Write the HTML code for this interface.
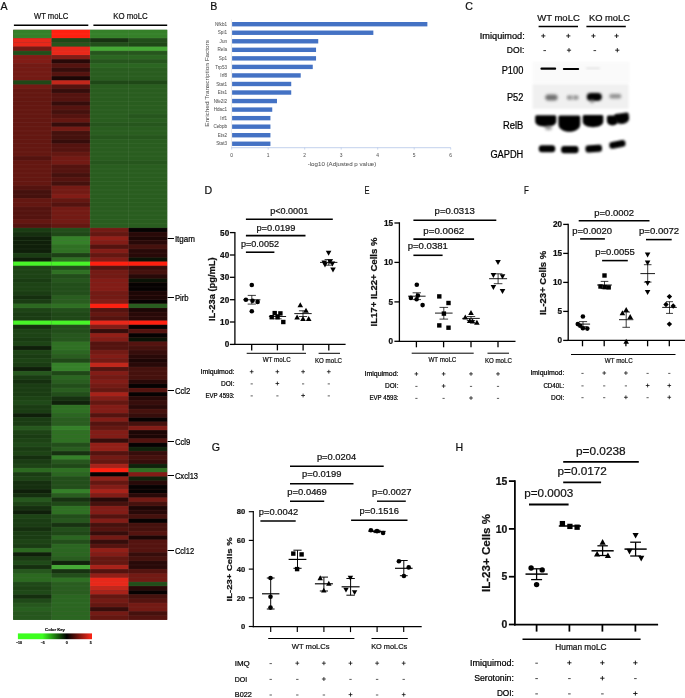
<!DOCTYPE html>
<html lang="en"><head><meta charset="utf-8"><title>Figure</title>
<style>
html,body{margin:0;padding:0;background:#fff;}
body{width:685px;height:698px;overflow:hidden;}
svg{display:block;font-family:"Liberation Sans", sans-serif;}
</style></head><body>
<svg width="685" height="698" viewBox="0 0 685 698">
<rect width="685" height="698" fill="#fff"/>
<rect x="13.2" y="29.8" width="76.9" height="198" fill="#5a1410"/><rect x="90.1" y="29.8" width="77.1" height="198" fill="#295d1f"/><rect x="13.2" y="227.8" width="76.9" height="392" fill="#1f4817"/><rect x="90.1" y="227.8" width="77.1" height="392" fill="#54130f"/>
<g>
<rect x="13.20" y="29.80" width="38.45" height="4.29" fill="#358029"/>
<rect x="51.60" y="29.80" width="38.55" height="4.29" fill="#ff2010"/>
<rect x="90.10" y="29.80" width="38.55" height="4.29" fill="#358029"/>
<rect x="128.60" y="29.80" width="38.60" height="4.29" fill="#358029"/>
<rect x="13.20" y="34.01" width="38.45" height="4.29" fill="#358029"/>
<rect x="51.60" y="34.01" width="38.55" height="4.29" fill="#ff2010"/>
<rect x="90.10" y="34.01" width="38.55" height="4.29" fill="#358029"/>
<rect x="128.60" y="34.01" width="38.60" height="4.29" fill="#358029"/>
<rect x="13.20" y="38.23" width="38.45" height="4.29" fill="#e8281a"/>
<rect x="51.60" y="38.23" width="38.55" height="4.29" fill="#1f4817"/>
<rect x="90.10" y="38.23" width="38.55" height="4.29" fill="#173211"/>
<rect x="128.60" y="38.23" width="38.60" height="4.29" fill="#224e1a"/>
<rect x="13.20" y="42.44" width="38.45" height="4.29" fill="#e8281a"/>
<rect x="51.60" y="42.44" width="38.55" height="4.29" fill="#26561d"/>
<rect x="90.10" y="42.44" width="38.55" height="4.29" fill="#224e1a"/>
<rect x="128.60" y="42.44" width="38.60" height="4.29" fill="#1f4817"/>
<rect x="13.20" y="46.66" width="38.45" height="4.29" fill="#731a14"/>
<rect x="51.60" y="46.66" width="38.55" height="4.29" fill="#e8281a"/>
<rect x="90.10" y="46.66" width="38.55" height="4.29" fill="#45a835"/>
<rect x="128.60" y="46.66" width="38.60" height="4.29" fill="#45a835"/>
<rect x="13.20" y="50.87" width="38.45" height="4.29" fill="#224e1a"/>
<rect x="51.60" y="50.87" width="38.55" height="4.29" fill="#e8281a"/>
<rect x="90.10" y="50.87" width="38.55" height="4.29" fill="#26561d"/>
<rect x="128.60" y="50.87" width="38.60" height="4.29" fill="#26561d"/>
<rect x="13.20" y="55.09" width="38.45" height="4.29" fill="#821c16"/>
<rect x="51.60" y="55.09" width="38.55" height="4.29" fill="#821c16"/>
<rect x="90.10" y="55.09" width="38.55" height="4.29" fill="#2b6621"/>
<rect x="128.60" y="55.09" width="38.60" height="4.29" fill="#2b6621"/>
<rect x="13.20" y="59.30" width="38.45" height="4.29" fill="#821c16"/>
<rect x="51.60" y="59.30" width="38.55" height="4.29" fill="#280908"/>
<rect x="90.10" y="59.30" width="38.55" height="4.29" fill="#26561d"/>
<rect x="128.60" y="59.30" width="38.60" height="4.29" fill="#26561d"/>
<rect x="13.20" y="63.51" width="38.45" height="4.29" fill="#731a14"/>
<rect x="51.60" y="63.51" width="38.55" height="4.29" fill="#54130f"/>
<rect x="90.10" y="63.51" width="38.55" height="4.29" fill="#2b6621"/>
<rect x="128.60" y="63.51" width="38.60" height="4.29" fill="#2b6621"/>
<rect x="13.20" y="67.73" width="38.45" height="4.29" fill="#731a14"/>
<rect x="51.60" y="67.73" width="38.55" height="4.29" fill="#360d0b"/>
<rect x="90.10" y="67.73" width="38.55" height="4.29" fill="#295d1f"/>
<rect x="128.60" y="67.73" width="38.60" height="4.29" fill="#295d1f"/>
<rect x="13.20" y="71.94" width="38.45" height="4.29" fill="#731a14"/>
<rect x="51.60" y="71.94" width="38.55" height="4.29" fill="#54130f"/>
<rect x="90.10" y="71.94" width="38.55" height="4.29" fill="#295d1f"/>
<rect x="128.60" y="71.94" width="38.60" height="4.29" fill="#295d1f"/>
<rect x="13.20" y="76.16" width="38.45" height="4.29" fill="#731a14"/>
<rect x="51.60" y="76.16" width="38.55" height="4.29" fill="#1c0605"/>
<rect x="90.10" y="76.16" width="38.55" height="4.29" fill="#295d1f"/>
<rect x="128.60" y="76.16" width="38.60" height="4.29" fill="#295d1f"/>
<rect x="13.20" y="80.37" width="38.45" height="4.29" fill="#1f4817"/>
<rect x="51.60" y="80.37" width="38.55" height="4.29" fill="#c2271b"/>
<rect x="90.10" y="80.37" width="38.55" height="4.29" fill="#1f4817"/>
<rect x="128.60" y="80.37" width="38.60" height="4.29" fill="#1f4817"/>
<rect x="13.20" y="84.59" width="38.45" height="4.29" fill="#731a14"/>
<rect x="51.60" y="84.59" width="38.55" height="4.29" fill="#54130f"/>
<rect x="90.10" y="84.59" width="38.55" height="4.29" fill="#295d1f"/>
<rect x="128.60" y="84.59" width="38.60" height="4.29" fill="#295d1f"/>
<rect x="13.20" y="88.80" width="38.45" height="4.29" fill="#641711"/>
<rect x="51.60" y="88.80" width="38.55" height="4.29" fill="#360d0b"/>
<rect x="90.10" y="88.80" width="38.55" height="4.29" fill="#295d1f"/>
<rect x="128.60" y="88.80" width="38.60" height="4.29" fill="#295d1f"/>
<rect x="13.20" y="93.01" width="38.45" height="4.29" fill="#641711"/>
<rect x="51.60" y="93.01" width="38.55" height="4.29" fill="#54130f"/>
<rect x="90.10" y="93.01" width="38.55" height="4.29" fill="#295d1f"/>
<rect x="128.60" y="93.01" width="38.60" height="4.29" fill="#295d1f"/>
<rect x="13.20" y="97.23" width="38.45" height="4.29" fill="#641711"/>
<rect x="51.60" y="97.23" width="38.55" height="4.29" fill="#54130f"/>
<rect x="90.10" y="97.23" width="38.55" height="4.29" fill="#295d1f"/>
<rect x="128.60" y="97.23" width="38.60" height="4.29" fill="#295d1f"/>
<rect x="13.20" y="101.44" width="38.45" height="4.29" fill="#641711"/>
<rect x="51.60" y="101.44" width="38.55" height="4.29" fill="#360d0b"/>
<rect x="90.10" y="101.44" width="38.55" height="4.29" fill="#295d1f"/>
<rect x="128.60" y="101.44" width="38.60" height="4.29" fill="#295d1f"/>
<rect x="13.20" y="105.66" width="38.45" height="4.29" fill="#641711"/>
<rect x="51.60" y="105.66" width="38.55" height="4.29" fill="#54130f"/>
<rect x="90.10" y="105.66" width="38.55" height="4.29" fill="#295d1f"/>
<rect x="128.60" y="105.66" width="38.60" height="4.29" fill="#295d1f"/>
<rect x="13.20" y="109.87" width="38.45" height="4.29" fill="#641711"/>
<rect x="51.60" y="109.87" width="38.55" height="4.29" fill="#45110d"/>
<rect x="90.10" y="109.87" width="38.55" height="4.29" fill="#295d1f"/>
<rect x="128.60" y="109.87" width="38.60" height="4.29" fill="#295d1f"/>
<rect x="13.20" y="114.09" width="38.45" height="4.29" fill="#641711"/>
<rect x="51.60" y="114.09" width="38.55" height="4.29" fill="#54130f"/>
<rect x="90.10" y="114.09" width="38.55" height="4.29" fill="#295d1f"/>
<rect x="128.60" y="114.09" width="38.60" height="4.29" fill="#26561d"/>
<rect x="13.20" y="118.30" width="38.45" height="4.29" fill="#641711"/>
<rect x="51.60" y="118.30" width="38.55" height="4.29" fill="#641711"/>
<rect x="90.10" y="118.30" width="38.55" height="4.29" fill="#295d1f"/>
<rect x="128.60" y="118.30" width="38.60" height="4.29" fill="#295d1f"/>
<rect x="13.20" y="122.51" width="38.45" height="4.29" fill="#641711"/>
<rect x="51.60" y="122.51" width="38.55" height="4.29" fill="#360d0b"/>
<rect x="90.10" y="122.51" width="38.55" height="4.29" fill="#26561d"/>
<rect x="128.60" y="122.51" width="38.60" height="4.29" fill="#26561d"/>
<rect x="13.20" y="126.73" width="38.45" height="4.29" fill="#641711"/>
<rect x="51.60" y="126.73" width="38.55" height="4.29" fill="#731a14"/>
<rect x="90.10" y="126.73" width="38.55" height="4.29" fill="#295d1f"/>
<rect x="128.60" y="126.73" width="38.60" height="4.29" fill="#295d1f"/>
<rect x="13.20" y="130.94" width="38.45" height="4.29" fill="#641711"/>
<rect x="51.60" y="130.94" width="38.55" height="4.29" fill="#45110d"/>
<rect x="90.10" y="130.94" width="38.55" height="4.29" fill="#295d1f"/>
<rect x="128.60" y="130.94" width="38.60" height="4.29" fill="#295d1f"/>
<rect x="13.20" y="135.16" width="38.45" height="4.29" fill="#641711"/>
<rect x="51.60" y="135.16" width="38.55" height="4.29" fill="#45110d"/>
<rect x="90.10" y="135.16" width="38.55" height="4.29" fill="#26561d"/>
<rect x="128.60" y="135.16" width="38.60" height="4.29" fill="#26561d"/>
<rect x="13.20" y="139.37" width="38.45" height="4.29" fill="#641711"/>
<rect x="51.60" y="139.37" width="38.55" height="4.29" fill="#360d0b"/>
<rect x="90.10" y="139.37" width="38.55" height="4.29" fill="#295d1f"/>
<rect x="128.60" y="139.37" width="38.60" height="4.29" fill="#295d1f"/>
<rect x="13.20" y="143.59" width="38.45" height="4.29" fill="#641711"/>
<rect x="51.60" y="143.59" width="38.55" height="4.29" fill="#54130f"/>
<rect x="90.10" y="143.59" width="38.55" height="4.29" fill="#295d1f"/>
<rect x="128.60" y="143.59" width="38.60" height="4.29" fill="#295d1f"/>
<rect x="13.20" y="147.80" width="38.45" height="4.29" fill="#641711"/>
<rect x="51.60" y="147.80" width="38.55" height="4.29" fill="#54130f"/>
<rect x="90.10" y="147.80" width="38.55" height="4.29" fill="#295d1f"/>
<rect x="128.60" y="147.80" width="38.60" height="4.29" fill="#295d1f"/>
<rect x="13.20" y="152.01" width="38.45" height="4.29" fill="#641711"/>
<rect x="51.60" y="152.01" width="38.55" height="4.29" fill="#641711"/>
<rect x="90.10" y="152.01" width="38.55" height="4.29" fill="#295d1f"/>
<rect x="128.60" y="152.01" width="38.60" height="4.29" fill="#295d1f"/>
<rect x="13.20" y="156.23" width="38.45" height="4.29" fill="#54130f"/>
<rect x="51.60" y="156.23" width="38.55" height="4.29" fill="#731a14"/>
<rect x="90.10" y="156.23" width="38.55" height="4.29" fill="#295d1f"/>
<rect x="128.60" y="156.23" width="38.60" height="4.29" fill="#295d1f"/>
<rect x="13.20" y="160.44" width="38.45" height="4.29" fill="#641711"/>
<rect x="51.60" y="160.44" width="38.55" height="4.29" fill="#731a14"/>
<rect x="90.10" y="160.44" width="38.55" height="4.29" fill="#26561d"/>
<rect x="128.60" y="160.44" width="38.60" height="4.29" fill="#26561d"/>
<rect x="13.20" y="164.66" width="38.45" height="4.29" fill="#641711"/>
<rect x="51.60" y="164.66" width="38.55" height="4.29" fill="#54130f"/>
<rect x="90.10" y="164.66" width="38.55" height="4.29" fill="#295d1f"/>
<rect x="128.60" y="164.66" width="38.60" height="4.29" fill="#295d1f"/>
<rect x="13.20" y="168.87" width="38.45" height="4.29" fill="#641711"/>
<rect x="51.60" y="168.87" width="38.55" height="4.29" fill="#54130f"/>
<rect x="90.10" y="168.87" width="38.55" height="4.29" fill="#295d1f"/>
<rect x="128.60" y="168.87" width="38.60" height="4.29" fill="#295d1f"/>
<rect x="13.20" y="173.09" width="38.45" height="4.29" fill="#641711"/>
<rect x="51.60" y="173.09" width="38.55" height="4.29" fill="#45110d"/>
<rect x="90.10" y="173.09" width="38.55" height="4.29" fill="#295d1f"/>
<rect x="128.60" y="173.09" width="38.60" height="4.29" fill="#295d1f"/>
<rect x="13.20" y="177.30" width="38.45" height="4.29" fill="#641711"/>
<rect x="51.60" y="177.30" width="38.55" height="4.29" fill="#54130f"/>
<rect x="90.10" y="177.30" width="38.55" height="4.29" fill="#295d1f"/>
<rect x="128.60" y="177.30" width="38.60" height="4.29" fill="#295d1f"/>
<rect x="13.20" y="181.51" width="38.45" height="4.29" fill="#641711"/>
<rect x="51.60" y="181.51" width="38.55" height="4.29" fill="#45110d"/>
<rect x="90.10" y="181.51" width="38.55" height="4.29" fill="#295d1f"/>
<rect x="128.60" y="181.51" width="38.60" height="4.29" fill="#295d1f"/>
<rect x="13.20" y="185.73" width="38.45" height="4.29" fill="#54130f"/>
<rect x="51.60" y="185.73" width="38.55" height="4.29" fill="#731a14"/>
<rect x="90.10" y="185.73" width="38.55" height="4.29" fill="#295d1f"/>
<rect x="128.60" y="185.73" width="38.60" height="4.29" fill="#295d1f"/>
<rect x="13.20" y="189.94" width="38.45" height="4.29" fill="#45110d"/>
<rect x="51.60" y="189.94" width="38.55" height="4.29" fill="#731a14"/>
<rect x="90.10" y="189.94" width="38.55" height="4.29" fill="#295d1f"/>
<rect x="128.60" y="189.94" width="38.60" height="4.29" fill="#295d1f"/>
<rect x="13.20" y="194.16" width="38.45" height="4.29" fill="#45110d"/>
<rect x="51.60" y="194.16" width="38.55" height="4.29" fill="#821c16"/>
<rect x="90.10" y="194.16" width="38.55" height="4.29" fill="#295d1f"/>
<rect x="128.60" y="194.16" width="38.60" height="4.29" fill="#295d1f"/>
<rect x="13.20" y="198.37" width="38.45" height="4.29" fill="#641711"/>
<rect x="51.60" y="198.37" width="38.55" height="4.29" fill="#641711"/>
<rect x="90.10" y="198.37" width="38.55" height="4.29" fill="#295d1f"/>
<rect x="128.60" y="198.37" width="38.60" height="4.29" fill="#295d1f"/>
<rect x="13.20" y="202.59" width="38.45" height="4.29" fill="#641711"/>
<rect x="51.60" y="202.59" width="38.55" height="4.29" fill="#54130f"/>
<rect x="90.10" y="202.59" width="38.55" height="4.29" fill="#295d1f"/>
<rect x="128.60" y="202.59" width="38.60" height="4.29" fill="#295d1f"/>
<rect x="13.20" y="206.80" width="38.45" height="4.29" fill="#54130f"/>
<rect x="51.60" y="206.80" width="38.55" height="4.29" fill="#731a14"/>
<rect x="90.10" y="206.80" width="38.55" height="4.29" fill="#295d1f"/>
<rect x="128.60" y="206.80" width="38.60" height="4.29" fill="#295d1f"/>
<rect x="13.20" y="211.01" width="38.45" height="4.29" fill="#54130f"/>
<rect x="51.60" y="211.01" width="38.55" height="4.29" fill="#731a14"/>
<rect x="90.10" y="211.01" width="38.55" height="4.29" fill="#295d1f"/>
<rect x="128.60" y="211.01" width="38.60" height="4.29" fill="#295d1f"/>
<rect x="13.20" y="215.23" width="38.45" height="4.29" fill="#54130f"/>
<rect x="51.60" y="215.23" width="38.55" height="4.29" fill="#731a14"/>
<rect x="90.10" y="215.23" width="38.55" height="4.29" fill="#295d1f"/>
<rect x="128.60" y="215.23" width="38.60" height="4.29" fill="#295d1f"/>
<rect x="13.20" y="219.44" width="38.45" height="4.29" fill="#641711"/>
<rect x="51.60" y="219.44" width="38.55" height="4.29" fill="#731a14"/>
<rect x="90.10" y="219.44" width="38.55" height="4.29" fill="#295d1f"/>
<rect x="128.60" y="219.44" width="38.60" height="4.29" fill="#295d1f"/>
<rect x="13.20" y="223.66" width="38.45" height="4.29" fill="#54130f"/>
<rect x="51.60" y="223.66" width="38.55" height="4.29" fill="#641711"/>
<rect x="90.10" y="223.66" width="38.55" height="4.29" fill="#295d1f"/>
<rect x="128.60" y="223.66" width="38.60" height="4.29" fill="#295d1f"/>
<rect x="13.20" y="227.87" width="38.45" height="4.29" fill="#1a3c13"/>
<rect x="51.60" y="227.87" width="38.55" height="4.29" fill="#224e1a"/>
<rect x="90.10" y="227.87" width="38.55" height="4.29" fill="#731a14"/>
<rect x="128.60" y="227.87" width="38.60" height="4.29" fill="#060202"/>
<rect x="13.20" y="232.09" width="38.45" height="4.29" fill="#152f0f"/>
<rect x="51.60" y="232.09" width="38.55" height="4.29" fill="#1f4817"/>
<rect x="90.10" y="232.09" width="38.55" height="4.29" fill="#641711"/>
<rect x="128.60" y="232.09" width="38.60" height="4.29" fill="#280908"/>
<rect x="13.20" y="236.30" width="38.45" height="4.29" fill="#0f1f0a"/>
<rect x="51.60" y="236.30" width="38.55" height="4.29" fill="#358029"/>
<rect x="90.10" y="236.30" width="38.55" height="4.29" fill="#921f17"/>
<rect x="128.60" y="236.30" width="38.60" height="4.29" fill="#1c0605"/>
<rect x="13.20" y="240.51" width="38.45" height="4.29" fill="#0f1f0a"/>
<rect x="51.60" y="240.51" width="38.55" height="4.29" fill="#358029"/>
<rect x="90.10" y="240.51" width="38.55" height="4.29" fill="#821c16"/>
<rect x="128.60" y="240.51" width="38.60" height="4.29" fill="#280908"/>
<rect x="13.20" y="244.73" width="38.45" height="4.29" fill="#0f1f0a"/>
<rect x="51.60" y="244.73" width="38.55" height="4.29" fill="#2f7023"/>
<rect x="90.10" y="244.73" width="38.55" height="4.29" fill="#54130f"/>
<rect x="128.60" y="244.73" width="38.60" height="4.29" fill="#45110d"/>
<rect x="13.20" y="248.94" width="38.45" height="4.29" fill="#0f1f0a"/>
<rect x="51.60" y="248.94" width="38.55" height="4.29" fill="#2f7023"/>
<rect x="90.10" y="248.94" width="38.55" height="4.29" fill="#821c16"/>
<rect x="128.60" y="248.94" width="38.60" height="4.29" fill="#280908"/>
<rect x="13.20" y="253.16" width="38.45" height="4.29" fill="#1a3c13"/>
<rect x="51.60" y="253.16" width="38.55" height="4.29" fill="#1c4015"/>
<rect x="90.10" y="253.16" width="38.55" height="4.29" fill="#641711"/>
<rect x="128.60" y="253.16" width="38.60" height="4.29" fill="#280908"/>
<rect x="13.20" y="257.37" width="38.45" height="4.29" fill="#0f1f0a"/>
<rect x="51.60" y="257.37" width="38.55" height="4.29" fill="#2f7023"/>
<rect x="90.10" y="257.37" width="38.55" height="4.29" fill="#821c16"/>
<rect x="128.60" y="257.37" width="38.60" height="4.29" fill="#0a1206"/>
<rect x="13.20" y="261.59" width="38.45" height="4.29" fill="#48f528"/>
<rect x="51.60" y="261.59" width="38.55" height="4.29" fill="#48f528"/>
<rect x="90.10" y="261.59" width="38.55" height="4.29" fill="#ff2010"/>
<rect x="128.60" y="261.59" width="38.60" height="4.29" fill="#ff2010"/>
<rect x="13.20" y="265.80" width="38.45" height="4.29" fill="#1d4315"/>
<rect x="51.60" y="265.80" width="38.55" height="4.29" fill="#224e1a"/>
<rect x="90.10" y="265.80" width="38.55" height="4.29" fill="#54130f"/>
<rect x="128.60" y="265.80" width="38.60" height="4.29" fill="#360d0b"/>
<rect x="13.20" y="270.01" width="38.45" height="4.29" fill="#1d4315"/>
<rect x="51.60" y="270.01" width="38.55" height="4.29" fill="#2f7023"/>
<rect x="90.10" y="270.01" width="38.55" height="4.29" fill="#731a14"/>
<rect x="128.60" y="270.01" width="38.60" height="4.29" fill="#45110d"/>
<rect x="13.20" y="274.23" width="38.45" height="4.29" fill="#1d4315"/>
<rect x="51.60" y="274.23" width="38.55" height="4.29" fill="#224e1a"/>
<rect x="90.10" y="274.23" width="38.55" height="4.29" fill="#731a14"/>
<rect x="128.60" y="274.23" width="38.60" height="4.29" fill="#280908"/>
<rect x="13.20" y="278.44" width="38.45" height="4.29" fill="#1a3c13"/>
<rect x="51.60" y="278.44" width="38.55" height="4.29" fill="#26561d"/>
<rect x="90.10" y="278.44" width="38.55" height="4.29" fill="#821c16"/>
<rect x="128.60" y="278.44" width="38.60" height="4.29" fill="#0a1206"/>
<rect x="13.20" y="282.66" width="38.45" height="4.29" fill="#1d4315"/>
<rect x="51.60" y="282.66" width="38.55" height="4.29" fill="#224e1a"/>
<rect x="90.10" y="282.66" width="38.55" height="4.29" fill="#821c16"/>
<rect x="128.60" y="282.66" width="38.60" height="4.29" fill="#060202"/>
<rect x="13.20" y="286.87" width="38.45" height="4.29" fill="#1d4315"/>
<rect x="51.60" y="286.87" width="38.55" height="4.29" fill="#224e1a"/>
<rect x="90.10" y="286.87" width="38.55" height="4.29" fill="#821c16"/>
<rect x="128.60" y="286.87" width="38.60" height="4.29" fill="#060202"/>
<rect x="13.20" y="291.09" width="38.45" height="4.29" fill="#1a3c13"/>
<rect x="51.60" y="291.09" width="38.55" height="4.29" fill="#224e1a"/>
<rect x="90.10" y="291.09" width="38.55" height="4.29" fill="#731a14"/>
<rect x="128.60" y="291.09" width="38.60" height="4.29" fill="#1c0605"/>
<rect x="13.20" y="295.30" width="38.45" height="4.29" fill="#152f0f"/>
<rect x="51.60" y="295.30" width="38.55" height="4.29" fill="#295d1f"/>
<rect x="90.10" y="295.30" width="38.55" height="4.29" fill="#731a14"/>
<rect x="128.60" y="295.30" width="38.60" height="4.29" fill="#1c0605"/>
<rect x="13.20" y="299.51" width="38.45" height="4.29" fill="#1a3c13"/>
<rect x="51.60" y="299.51" width="38.55" height="4.29" fill="#295d1f"/>
<rect x="90.10" y="299.51" width="38.55" height="4.29" fill="#821c16"/>
<rect x="128.60" y="299.51" width="38.60" height="4.29" fill="#060202"/>
<rect x="13.20" y="303.73" width="38.45" height="4.29" fill="#2c6920"/>
<rect x="51.60" y="303.73" width="38.55" height="4.29" fill="#2f7023"/>
<rect x="90.10" y="303.73" width="38.55" height="4.29" fill="#ff2010"/>
<rect x="128.60" y="303.73" width="38.60" height="4.29" fill="#295d1f"/>
<rect x="13.20" y="307.94" width="38.45" height="4.29" fill="#1d4315"/>
<rect x="51.60" y="307.94" width="38.55" height="4.29" fill="#224e1a"/>
<rect x="90.10" y="307.94" width="38.55" height="4.29" fill="#54130f"/>
<rect x="128.60" y="307.94" width="38.60" height="4.29" fill="#1c0605"/>
<rect x="13.20" y="312.16" width="38.45" height="4.29" fill="#1a3c13"/>
<rect x="51.60" y="312.16" width="38.55" height="4.29" fill="#1f4817"/>
<rect x="90.10" y="312.16" width="38.55" height="4.29" fill="#641711"/>
<rect x="128.60" y="312.16" width="38.60" height="4.29" fill="#280908"/>
<rect x="13.20" y="316.37" width="38.45" height="4.29" fill="#1a3c13"/>
<rect x="51.60" y="316.37" width="38.55" height="4.29" fill="#1f4817"/>
<rect x="90.10" y="316.37" width="38.55" height="4.29" fill="#54130f"/>
<rect x="128.60" y="316.37" width="38.60" height="4.29" fill="#280908"/>
<rect x="13.20" y="320.59" width="38.45" height="4.29" fill="#48f528"/>
<rect x="51.60" y="320.59" width="38.55" height="4.29" fill="#48f528"/>
<rect x="90.10" y="320.59" width="38.55" height="4.29" fill="#e8281a"/>
<rect x="128.60" y="320.59" width="38.60" height="4.29" fill="#ff2010"/>
<rect x="13.20" y="324.80" width="38.45" height="4.29" fill="#152f0f"/>
<rect x="51.60" y="324.80" width="38.55" height="4.29" fill="#224e1a"/>
<rect x="90.10" y="324.80" width="38.55" height="4.29" fill="#821c16"/>
<rect x="128.60" y="324.80" width="38.60" height="4.29" fill="#060202"/>
<rect x="13.20" y="329.01" width="38.45" height="4.29" fill="#1d4315"/>
<rect x="51.60" y="329.01" width="38.55" height="4.29" fill="#224e1a"/>
<rect x="90.10" y="329.01" width="38.55" height="4.29" fill="#360d0b"/>
<rect x="128.60" y="329.01" width="38.60" height="4.29" fill="#54130f"/>
<rect x="13.20" y="333.23" width="38.45" height="4.29" fill="#1d4315"/>
<rect x="51.60" y="333.23" width="38.55" height="4.29" fill="#26561d"/>
<rect x="90.10" y="333.23" width="38.55" height="4.29" fill="#921f17"/>
<rect x="128.60" y="333.23" width="38.60" height="4.29" fill="#060202"/>
<rect x="13.20" y="337.44" width="38.45" height="4.29" fill="#1a3c13"/>
<rect x="51.60" y="337.44" width="38.55" height="4.29" fill="#26561d"/>
<rect x="90.10" y="337.44" width="38.55" height="4.29" fill="#821c16"/>
<rect x="128.60" y="337.44" width="38.60" height="4.29" fill="#0a1206"/>
<rect x="13.20" y="341.66" width="38.45" height="4.29" fill="#1d4315"/>
<rect x="51.60" y="341.66" width="38.55" height="4.29" fill="#2f7023"/>
<rect x="90.10" y="341.66" width="38.55" height="4.29" fill="#54130f"/>
<rect x="128.60" y="341.66" width="38.60" height="4.29" fill="#54130f"/>
<rect x="13.20" y="345.87" width="38.45" height="4.29" fill="#0f1f0a"/>
<rect x="51.60" y="345.87" width="38.55" height="4.29" fill="#2f7023"/>
<rect x="90.10" y="345.87" width="38.55" height="4.29" fill="#54130f"/>
<rect x="128.60" y="345.87" width="38.60" height="4.29" fill="#45110d"/>
<rect x="13.20" y="350.09" width="38.45" height="4.29" fill="#1d4315"/>
<rect x="51.60" y="350.09" width="38.55" height="4.29" fill="#2b6621"/>
<rect x="90.10" y="350.09" width="38.55" height="4.29" fill="#731a14"/>
<rect x="128.60" y="350.09" width="38.60" height="4.29" fill="#360d0b"/>
<rect x="13.20" y="354.30" width="38.45" height="4.29" fill="#1a3c13"/>
<rect x="51.60" y="354.30" width="38.55" height="4.29" fill="#295d1f"/>
<rect x="90.10" y="354.30" width="38.55" height="4.29" fill="#821c16"/>
<rect x="128.60" y="354.30" width="38.60" height="4.29" fill="#280908"/>
<rect x="13.20" y="358.51" width="38.45" height="4.29" fill="#1d4315"/>
<rect x="51.60" y="358.51" width="38.55" height="4.29" fill="#1f4817"/>
<rect x="90.10" y="358.51" width="38.55" height="4.29" fill="#731a14"/>
<rect x="128.60" y="358.51" width="38.60" height="4.29" fill="#1c0605"/>
<rect x="13.20" y="362.73" width="38.45" height="4.29" fill="#1a3c13"/>
<rect x="51.60" y="362.73" width="38.55" height="4.29" fill="#358029"/>
<rect x="90.10" y="362.73" width="38.55" height="4.29" fill="#c2271b"/>
<rect x="128.60" y="362.73" width="38.60" height="4.29" fill="#280908"/>
<rect x="13.20" y="366.94" width="38.45" height="4.29" fill="#0f1f0a"/>
<rect x="51.60" y="366.94" width="38.55" height="4.29" fill="#358029"/>
<rect x="90.10" y="366.94" width="38.55" height="4.29" fill="#54130f"/>
<rect x="128.60" y="366.94" width="38.60" height="4.29" fill="#45110d"/>
<rect x="13.20" y="371.16" width="38.45" height="4.29" fill="#26571d"/>
<rect x="51.60" y="371.16" width="38.55" height="4.29" fill="#1f4817"/>
<rect x="90.10" y="371.16" width="38.55" height="4.29" fill="#821c16"/>
<rect x="128.60" y="371.16" width="38.60" height="4.29" fill="#45110d"/>
<rect x="13.20" y="375.37" width="38.45" height="4.29" fill="#1a3c13"/>
<rect x="51.60" y="375.37" width="38.55" height="4.29" fill="#2b6621"/>
<rect x="90.10" y="375.37" width="38.55" height="4.29" fill="#731a14"/>
<rect x="128.60" y="375.37" width="38.60" height="4.29" fill="#45110d"/>
<rect x="13.20" y="379.59" width="38.45" height="4.29" fill="#152f0f"/>
<rect x="51.60" y="379.59" width="38.55" height="4.29" fill="#295d1f"/>
<rect x="90.10" y="379.59" width="38.55" height="4.29" fill="#821c16"/>
<rect x="128.60" y="379.59" width="38.60" height="4.29" fill="#280908"/>
<rect x="13.20" y="383.80" width="38.45" height="4.29" fill="#1a3c13"/>
<rect x="51.60" y="383.80" width="38.55" height="4.29" fill="#224e1a"/>
<rect x="90.10" y="383.80" width="38.55" height="4.29" fill="#731a14"/>
<rect x="128.60" y="383.80" width="38.60" height="4.29" fill="#060202"/>
<rect x="13.20" y="388.01" width="38.45" height="4.29" fill="#1a3c13"/>
<rect x="51.60" y="388.01" width="38.55" height="4.29" fill="#295d1f"/>
<rect x="90.10" y="388.01" width="38.55" height="4.29" fill="#641711"/>
<rect x="128.60" y="388.01" width="38.60" height="4.29" fill="#54130f"/>
<rect x="13.20" y="392.23" width="38.45" height="4.29" fill="#1a3c13"/>
<rect x="51.60" y="392.23" width="38.55" height="4.29" fill="#224e1a"/>
<rect x="90.10" y="392.23" width="38.55" height="4.29" fill="#a82219"/>
<rect x="128.60" y="392.23" width="38.60" height="4.29" fill="#060202"/>
<rect x="13.20" y="396.44" width="38.45" height="4.29" fill="#1d4315"/>
<rect x="51.60" y="396.44" width="38.55" height="4.29" fill="#173211"/>
<rect x="90.10" y="396.44" width="38.55" height="4.29" fill="#821c16"/>
<rect x="128.60" y="396.44" width="38.60" height="4.29" fill="#280908"/>
<rect x="13.20" y="400.66" width="38.45" height="4.29" fill="#1f4918"/>
<rect x="51.60" y="400.66" width="38.55" height="4.29" fill="#10220b"/>
<rect x="90.10" y="400.66" width="38.55" height="4.29" fill="#641711"/>
<rect x="128.60" y="400.66" width="38.60" height="4.29" fill="#360d0b"/>
<rect x="13.20" y="404.87" width="38.45" height="4.29" fill="#1a3c13"/>
<rect x="51.60" y="404.87" width="38.55" height="4.29" fill="#2f7023"/>
<rect x="90.10" y="404.87" width="38.55" height="4.29" fill="#821c16"/>
<rect x="128.60" y="404.87" width="38.60" height="4.29" fill="#280908"/>
<rect x="13.20" y="409.09" width="38.45" height="4.29" fill="#1a3c13"/>
<rect x="51.60" y="409.09" width="38.55" height="4.29" fill="#2f7023"/>
<rect x="90.10" y="409.09" width="38.55" height="4.29" fill="#821c16"/>
<rect x="128.60" y="409.09" width="38.60" height="4.29" fill="#45110d"/>
<rect x="13.20" y="413.30" width="38.45" height="4.29" fill="#0f1f0a"/>
<rect x="51.60" y="413.30" width="38.55" height="4.29" fill="#2b6621"/>
<rect x="90.10" y="413.30" width="38.55" height="4.29" fill="#54130f"/>
<rect x="128.60" y="413.30" width="38.60" height="4.29" fill="#360d0b"/>
<rect x="13.20" y="417.51" width="38.45" height="4.29" fill="#1a3c13"/>
<rect x="51.60" y="417.51" width="38.55" height="4.29" fill="#295d1f"/>
<rect x="90.10" y="417.51" width="38.55" height="4.29" fill="#821c16"/>
<rect x="128.60" y="417.51" width="38.60" height="4.29" fill="#060202"/>
<rect x="13.20" y="421.73" width="38.45" height="4.29" fill="#1a3c13"/>
<rect x="51.60" y="421.73" width="38.55" height="4.29" fill="#295d1f"/>
<rect x="90.10" y="421.73" width="38.55" height="4.29" fill="#54130f"/>
<rect x="128.60" y="421.73" width="38.60" height="4.29" fill="#45110d"/>
<rect x="13.20" y="425.94" width="38.45" height="4.29" fill="#26571d"/>
<rect x="51.60" y="425.94" width="38.55" height="4.29" fill="#358029"/>
<rect x="90.10" y="425.94" width="38.55" height="4.29" fill="#641711"/>
<rect x="128.60" y="425.94" width="38.60" height="4.29" fill="#821c16"/>
<rect x="13.20" y="430.16" width="38.45" height="4.29" fill="#1d4315"/>
<rect x="51.60" y="430.16" width="38.55" height="4.29" fill="#2f7023"/>
<rect x="90.10" y="430.16" width="38.55" height="4.29" fill="#821c16"/>
<rect x="128.60" y="430.16" width="38.60" height="4.29" fill="#1c0605"/>
<rect x="13.20" y="434.37" width="38.45" height="4.29" fill="#1a3c13"/>
<rect x="51.60" y="434.37" width="38.55" height="4.29" fill="#2f7023"/>
<rect x="90.10" y="434.37" width="38.55" height="4.29" fill="#821c16"/>
<rect x="128.60" y="434.37" width="38.60" height="4.29" fill="#1c0605"/>
<rect x="13.20" y="438.59" width="38.45" height="4.29" fill="#1d4315"/>
<rect x="51.60" y="438.59" width="38.55" height="4.29" fill="#2f7023"/>
<rect x="90.10" y="438.59" width="38.55" height="4.29" fill="#360d0b"/>
<rect x="128.60" y="438.59" width="38.60" height="4.29" fill="#54130f"/>
<rect x="13.20" y="442.80" width="38.45" height="4.29" fill="#1f4918"/>
<rect x="51.60" y="442.80" width="38.55" height="4.29" fill="#224e1a"/>
<rect x="90.10" y="442.80" width="38.55" height="4.29" fill="#921f17"/>
<rect x="128.60" y="442.80" width="38.60" height="4.29" fill="#060202"/>
<rect x="13.20" y="447.01" width="38.45" height="4.29" fill="#1a3c13"/>
<rect x="51.60" y="447.01" width="38.55" height="4.29" fill="#295d1f"/>
<rect x="90.10" y="447.01" width="38.55" height="4.29" fill="#921f17"/>
<rect x="128.60" y="447.01" width="38.60" height="4.29" fill="#10220b"/>
<rect x="13.20" y="451.23" width="38.45" height="4.29" fill="#1d4315"/>
<rect x="51.60" y="451.23" width="38.55" height="4.29" fill="#173211"/>
<rect x="90.10" y="451.23" width="38.55" height="4.29" fill="#54130f"/>
<rect x="128.60" y="451.23" width="38.60" height="4.29" fill="#360d0b"/>
<rect x="13.20" y="455.44" width="38.45" height="4.29" fill="#152f0f"/>
<rect x="51.60" y="455.44" width="38.55" height="4.29" fill="#358029"/>
<rect x="90.10" y="455.44" width="38.55" height="4.29" fill="#731a14"/>
<rect x="128.60" y="455.44" width="38.60" height="4.29" fill="#45110d"/>
<rect x="13.20" y="459.66" width="38.45" height="4.29" fill="#1a3c13"/>
<rect x="51.60" y="459.66" width="38.55" height="4.29" fill="#26561d"/>
<rect x="90.10" y="459.66" width="38.55" height="4.29" fill="#641711"/>
<rect x="128.60" y="459.66" width="38.60" height="4.29" fill="#360d0b"/>
<rect x="13.20" y="463.87" width="38.45" height="4.29" fill="#1d4315"/>
<rect x="51.60" y="463.87" width="38.55" height="4.29" fill="#1f4817"/>
<rect x="90.10" y="463.87" width="38.55" height="4.29" fill="#a82219"/>
<rect x="128.60" y="463.87" width="38.60" height="4.29" fill="#10220b"/>
<rect x="13.20" y="468.09" width="38.45" height="4.29" fill="#2c6920"/>
<rect x="51.60" y="468.09" width="38.55" height="4.29" fill="#2f7023"/>
<rect x="90.10" y="468.09" width="38.55" height="4.29" fill="#ff2010"/>
<rect x="128.60" y="468.09" width="38.60" height="4.29" fill="#2f7023"/>
<rect x="13.20" y="472.30" width="38.45" height="4.29" fill="#1a3c13"/>
<rect x="51.60" y="472.30" width="38.55" height="4.29" fill="#2b6621"/>
<rect x="90.10" y="472.30" width="38.55" height="4.29" fill="#060202"/>
<rect x="128.60" y="472.30" width="38.60" height="4.29" fill="#821c16"/>
<rect x="13.20" y="476.51" width="38.45" height="4.29" fill="#1d4315"/>
<rect x="51.60" y="476.51" width="38.55" height="4.29" fill="#224e1a"/>
<rect x="90.10" y="476.51" width="38.55" height="4.29" fill="#921f17"/>
<rect x="128.60" y="476.51" width="38.60" height="4.29" fill="#10220b"/>
<rect x="13.20" y="480.73" width="38.45" height="4.29" fill="#152f0f"/>
<rect x="51.60" y="480.73" width="38.55" height="4.29" fill="#224e1a"/>
<rect x="90.10" y="480.73" width="38.55" height="4.29" fill="#641711"/>
<rect x="128.60" y="480.73" width="38.60" height="4.29" fill="#280908"/>
<rect x="13.20" y="484.94" width="38.45" height="4.29" fill="#152f0f"/>
<rect x="51.60" y="484.94" width="38.55" height="4.29" fill="#224e1a"/>
<rect x="90.10" y="484.94" width="38.55" height="4.29" fill="#821c16"/>
<rect x="128.60" y="484.94" width="38.60" height="4.29" fill="#060202"/>
<rect x="13.20" y="489.16" width="38.45" height="4.29" fill="#0f1f0a"/>
<rect x="51.60" y="489.16" width="38.55" height="4.29" fill="#358029"/>
<rect x="90.10" y="489.16" width="38.55" height="4.29" fill="#a82219"/>
<rect x="128.60" y="489.16" width="38.60" height="4.29" fill="#060202"/>
<rect x="13.20" y="493.37" width="38.45" height="4.29" fill="#152f0f"/>
<rect x="51.60" y="493.37" width="38.55" height="4.29" fill="#295d1f"/>
<rect x="90.10" y="493.37" width="38.55" height="4.29" fill="#821c16"/>
<rect x="128.60" y="493.37" width="38.60" height="4.29" fill="#280908"/>
<rect x="13.20" y="497.59" width="38.45" height="4.29" fill="#26571d"/>
<rect x="51.60" y="497.59" width="38.55" height="4.29" fill="#173211"/>
<rect x="90.10" y="497.59" width="38.55" height="4.29" fill="#280908"/>
<rect x="128.60" y="497.59" width="38.60" height="4.29" fill="#731a14"/>
<rect x="13.20" y="501.80" width="38.45" height="4.29" fill="#1d4315"/>
<rect x="51.60" y="501.80" width="38.55" height="4.29" fill="#1f4817"/>
<rect x="90.10" y="501.80" width="38.55" height="4.29" fill="#45110d"/>
<rect x="128.60" y="501.80" width="38.60" height="4.29" fill="#45110d"/>
<rect x="13.20" y="506.01" width="38.45" height="4.29" fill="#152f0f"/>
<rect x="51.60" y="506.01" width="38.55" height="4.29" fill="#2f7023"/>
<rect x="90.10" y="506.01" width="38.55" height="4.29" fill="#821c16"/>
<rect x="128.60" y="506.01" width="38.60" height="4.29" fill="#1c0605"/>
<rect x="13.20" y="510.23" width="38.45" height="4.29" fill="#0f1f0a"/>
<rect x="51.60" y="510.23" width="38.55" height="4.29" fill="#2f7023"/>
<rect x="90.10" y="510.23" width="38.55" height="4.29" fill="#821c16"/>
<rect x="128.60" y="510.23" width="38.60" height="4.29" fill="#280908"/>
<rect x="13.20" y="514.44" width="38.45" height="4.29" fill="#1d4315"/>
<rect x="51.60" y="514.44" width="38.55" height="4.29" fill="#224e1a"/>
<rect x="90.10" y="514.44" width="38.55" height="4.29" fill="#54130f"/>
<rect x="128.60" y="514.44" width="38.60" height="4.29" fill="#45110d"/>
<rect x="13.20" y="518.66" width="38.45" height="4.29" fill="#1a3c13"/>
<rect x="51.60" y="518.66" width="38.55" height="4.29" fill="#26561d"/>
<rect x="90.10" y="518.66" width="38.55" height="4.29" fill="#821c16"/>
<rect x="128.60" y="518.66" width="38.60" height="4.29" fill="#060202"/>
<rect x="13.20" y="522.87" width="38.45" height="4.29" fill="#1a3c13"/>
<rect x="51.60" y="522.87" width="38.55" height="4.29" fill="#173211"/>
<rect x="90.10" y="522.87" width="38.55" height="4.29" fill="#45110d"/>
<rect x="128.60" y="522.87" width="38.60" height="4.29" fill="#45110d"/>
<rect x="13.20" y="527.09" width="38.45" height="4.29" fill="#152f0f"/>
<rect x="51.60" y="527.09" width="38.55" height="4.29" fill="#224e1a"/>
<rect x="90.10" y="527.09" width="38.55" height="4.29" fill="#54130f"/>
<rect x="128.60" y="527.09" width="38.60" height="4.29" fill="#45110d"/>
<rect x="13.20" y="531.30" width="38.45" height="4.29" fill="#1a3c13"/>
<rect x="51.60" y="531.30" width="38.55" height="4.29" fill="#1f4817"/>
<rect x="90.10" y="531.30" width="38.55" height="4.29" fill="#360d0b"/>
<rect x="128.60" y="531.30" width="38.60" height="4.29" fill="#54130f"/>
<rect x="13.20" y="535.51" width="38.45" height="4.29" fill="#1a3c13"/>
<rect x="51.60" y="535.51" width="38.55" height="4.29" fill="#2b6621"/>
<rect x="90.10" y="535.51" width="38.55" height="4.29" fill="#731a14"/>
<rect x="128.60" y="535.51" width="38.60" height="4.29" fill="#1c0605"/>
<rect x="13.20" y="539.73" width="38.45" height="4.29" fill="#1d4315"/>
<rect x="51.60" y="539.73" width="38.55" height="4.29" fill="#224e1a"/>
<rect x="90.10" y="539.73" width="38.55" height="4.29" fill="#360d0b"/>
<rect x="128.60" y="539.73" width="38.60" height="4.29" fill="#54130f"/>
<rect x="13.20" y="543.94" width="38.45" height="4.29" fill="#1a3c13"/>
<rect x="51.60" y="543.94" width="38.55" height="4.29" fill="#2b6621"/>
<rect x="90.10" y="543.94" width="38.55" height="4.29" fill="#54130f"/>
<rect x="128.60" y="543.94" width="38.60" height="4.29" fill="#54130f"/>
<rect x="13.20" y="548.16" width="38.45" height="4.29" fill="#2c6920"/>
<rect x="51.60" y="548.16" width="38.55" height="4.29" fill="#2b6621"/>
<rect x="90.10" y="548.16" width="38.55" height="4.29" fill="#921f17"/>
<rect x="128.60" y="548.16" width="38.60" height="4.29" fill="#54130f"/>
<rect x="13.20" y="552.37" width="38.45" height="4.29" fill="#0f1f0a"/>
<rect x="51.60" y="552.37" width="38.55" height="4.29" fill="#2b6621"/>
<rect x="90.10" y="552.37" width="38.55" height="4.29" fill="#821c16"/>
<rect x="128.60" y="552.37" width="38.60" height="4.29" fill="#360d0b"/>
<rect x="13.20" y="556.59" width="38.45" height="4.29" fill="#1a3c13"/>
<rect x="51.60" y="556.59" width="38.55" height="4.29" fill="#295d1f"/>
<rect x="90.10" y="556.59" width="38.55" height="4.29" fill="#641711"/>
<rect x="128.60" y="556.59" width="38.60" height="4.29" fill="#45110d"/>
<rect x="13.20" y="560.80" width="38.45" height="4.29" fill="#1f4918"/>
<rect x="51.60" y="560.80" width="38.55" height="4.29" fill="#10220b"/>
<rect x="90.10" y="560.80" width="38.55" height="4.29" fill="#641711"/>
<rect x="128.60" y="560.80" width="38.60" height="4.29" fill="#280908"/>
<rect x="13.20" y="565.01" width="38.45" height="4.29" fill="#152f0f"/>
<rect x="51.60" y="565.01" width="38.55" height="4.29" fill="#45a835"/>
<rect x="90.10" y="565.01" width="38.55" height="4.29" fill="#a82219"/>
<rect x="128.60" y="565.01" width="38.60" height="4.29" fill="#280908"/>
<rect x="13.20" y="569.23" width="38.45" height="4.29" fill="#26571d"/>
<rect x="51.60" y="569.23" width="38.55" height="4.29" fill="#173211"/>
<rect x="90.10" y="569.23" width="38.55" height="4.29" fill="#54130f"/>
<rect x="128.60" y="569.23" width="38.60" height="4.29" fill="#54130f"/>
<rect x="13.20" y="573.44" width="38.45" height="4.29" fill="#2c6920"/>
<rect x="51.60" y="573.44" width="38.55" height="4.29" fill="#224e1a"/>
<rect x="90.10" y="573.44" width="38.55" height="4.29" fill="#921f17"/>
<rect x="128.60" y="573.44" width="38.60" height="4.29" fill="#731a14"/>
<rect x="13.20" y="577.66" width="38.45" height="4.29" fill="#2c6920"/>
<rect x="51.60" y="577.66" width="38.55" height="4.29" fill="#2f7023"/>
<rect x="90.10" y="577.66" width="38.55" height="4.29" fill="#e8281a"/>
<rect x="128.60" y="577.66" width="38.60" height="4.29" fill="#731a14"/>
<rect x="13.20" y="581.87" width="38.45" height="4.29" fill="#1f4918"/>
<rect x="51.60" y="581.87" width="38.55" height="4.29" fill="#295d1f"/>
<rect x="90.10" y="581.87" width="38.55" height="4.29" fill="#e8281a"/>
<rect x="128.60" y="581.87" width="38.60" height="4.29" fill="#224e1a"/>
<rect x="13.20" y="586.09" width="38.45" height="4.29" fill="#1d4315"/>
<rect x="51.60" y="586.09" width="38.55" height="4.29" fill="#295d1f"/>
<rect x="90.10" y="586.09" width="38.55" height="4.29" fill="#c2271b"/>
<rect x="128.60" y="586.09" width="38.60" height="4.29" fill="#280908"/>
<rect x="13.20" y="590.30" width="38.45" height="4.29" fill="#1f4918"/>
<rect x="51.60" y="590.30" width="38.55" height="4.29" fill="#295d1f"/>
<rect x="90.10" y="590.30" width="38.55" height="4.29" fill="#a82219"/>
<rect x="128.60" y="590.30" width="38.60" height="4.29" fill="#060202"/>
<rect x="13.20" y="594.51" width="38.45" height="4.29" fill="#152f0f"/>
<rect x="51.60" y="594.51" width="38.55" height="4.29" fill="#2b6621"/>
<rect x="90.10" y="594.51" width="38.55" height="4.29" fill="#641711"/>
<rect x="128.60" y="594.51" width="38.60" height="4.29" fill="#45110d"/>
<rect x="13.20" y="598.73" width="38.45" height="4.29" fill="#1f4918"/>
<rect x="51.60" y="598.73" width="38.55" height="4.29" fill="#2b6621"/>
<rect x="90.10" y="598.73" width="38.55" height="4.29" fill="#731a14"/>
<rect x="128.60" y="598.73" width="38.60" height="4.29" fill="#54130f"/>
<rect x="13.20" y="602.94" width="38.45" height="4.29" fill="#26571d"/>
<rect x="51.60" y="602.94" width="38.55" height="4.29" fill="#2b6621"/>
<rect x="90.10" y="602.94" width="38.55" height="4.29" fill="#641711"/>
<rect x="128.60" y="602.94" width="38.60" height="4.29" fill="#731a14"/>
<rect x="13.20" y="607.16" width="38.45" height="4.29" fill="#285f1f"/>
<rect x="51.60" y="607.16" width="38.55" height="4.29" fill="#2b6621"/>
<rect x="90.10" y="607.16" width="38.55" height="4.29" fill="#360d0b"/>
<rect x="128.60" y="607.16" width="38.60" height="4.29" fill="#731a14"/>
<rect x="13.20" y="611.37" width="38.45" height="4.29" fill="#26571d"/>
<rect x="51.60" y="611.37" width="38.55" height="4.29" fill="#2b6621"/>
<rect x="90.10" y="611.37" width="38.55" height="4.29" fill="#731a14"/>
<rect x="128.60" y="611.37" width="38.60" height="4.29" fill="#45110d"/>
<rect x="13.20" y="615.59" width="38.45" height="4.21" fill="#26571d"/>
<rect x="51.60" y="615.59" width="38.55" height="4.21" fill="#2b6621"/>
<rect x="90.10" y="615.59" width="38.55" height="4.21" fill="#641711"/>
<rect x="128.60" y="615.59" width="38.60" height="4.21" fill="#54130f"/>
</g>
<line x1="13.2" y1="34.0" x2="167.2" y2="34.0" stroke="rgba(255,255,255,0.13)" stroke-width="0.4" stroke-linecap="butt"/>
<line x1="13.2" y1="38.2" x2="167.2" y2="38.2" stroke="rgba(255,255,255,0.13)" stroke-width="0.4" stroke-linecap="butt"/>
<line x1="13.2" y1="42.4" x2="167.2" y2="42.4" stroke="rgba(255,255,255,0.13)" stroke-width="0.4" stroke-linecap="butt"/>
<line x1="13.2" y1="46.7" x2="167.2" y2="46.7" stroke="rgba(255,255,255,0.13)" stroke-width="0.4" stroke-linecap="butt"/>
<line x1="13.2" y1="50.9" x2="167.2" y2="50.9" stroke="rgba(255,255,255,0.13)" stroke-width="0.4" stroke-linecap="butt"/>
<line x1="13.2" y1="55.1" x2="167.2" y2="55.1" stroke="rgba(255,255,255,0.13)" stroke-width="0.4" stroke-linecap="butt"/>
<line x1="13.2" y1="59.3" x2="167.2" y2="59.3" stroke="rgba(255,255,255,0.13)" stroke-width="0.4" stroke-linecap="butt"/>
<line x1="13.2" y1="63.5" x2="167.2" y2="63.5" stroke="rgba(255,255,255,0.13)" stroke-width="0.4" stroke-linecap="butt"/>
<line x1="13.2" y1="67.7" x2="167.2" y2="67.7" stroke="rgba(255,255,255,0.13)" stroke-width="0.4" stroke-linecap="butt"/>
<line x1="13.2" y1="71.9" x2="167.2" y2="71.9" stroke="rgba(255,255,255,0.13)" stroke-width="0.4" stroke-linecap="butt"/>
<line x1="13.2" y1="76.2" x2="167.2" y2="76.2" stroke="rgba(255,255,255,0.13)" stroke-width="0.4" stroke-linecap="butt"/>
<line x1="13.2" y1="80.4" x2="167.2" y2="80.4" stroke="rgba(255,255,255,0.13)" stroke-width="0.4" stroke-linecap="butt"/>
<line x1="13.2" y1="84.6" x2="167.2" y2="84.6" stroke="rgba(255,255,255,0.13)" stroke-width="0.4" stroke-linecap="butt"/>
<line x1="13.2" y1="88.8" x2="167.2" y2="88.8" stroke="rgba(255,255,255,0.13)" stroke-width="0.4" stroke-linecap="butt"/>
<line x1="13.2" y1="93.0" x2="167.2" y2="93.0" stroke="rgba(255,255,255,0.13)" stroke-width="0.4" stroke-linecap="butt"/>
<line x1="13.2" y1="97.2" x2="167.2" y2="97.2" stroke="rgba(255,255,255,0.13)" stroke-width="0.4" stroke-linecap="butt"/>
<line x1="13.2" y1="101.4" x2="167.2" y2="101.4" stroke="rgba(255,255,255,0.13)" stroke-width="0.4" stroke-linecap="butt"/>
<line x1="13.2" y1="105.7" x2="167.2" y2="105.7" stroke="rgba(255,255,255,0.13)" stroke-width="0.4" stroke-linecap="butt"/>
<line x1="13.2" y1="109.9" x2="167.2" y2="109.9" stroke="rgba(255,255,255,0.13)" stroke-width="0.4" stroke-linecap="butt"/>
<line x1="13.2" y1="114.1" x2="167.2" y2="114.1" stroke="rgba(255,255,255,0.13)" stroke-width="0.4" stroke-linecap="butt"/>
<line x1="13.2" y1="118.3" x2="167.2" y2="118.3" stroke="rgba(255,255,255,0.13)" stroke-width="0.4" stroke-linecap="butt"/>
<line x1="13.2" y1="122.5" x2="167.2" y2="122.5" stroke="rgba(255,255,255,0.13)" stroke-width="0.4" stroke-linecap="butt"/>
<line x1="13.2" y1="126.7" x2="167.2" y2="126.7" stroke="rgba(255,255,255,0.13)" stroke-width="0.4" stroke-linecap="butt"/>
<line x1="13.2" y1="130.9" x2="167.2" y2="130.9" stroke="rgba(255,255,255,0.13)" stroke-width="0.4" stroke-linecap="butt"/>
<line x1="13.2" y1="135.2" x2="167.2" y2="135.2" stroke="rgba(255,255,255,0.13)" stroke-width="0.4" stroke-linecap="butt"/>
<line x1="13.2" y1="139.4" x2="167.2" y2="139.4" stroke="rgba(255,255,255,0.13)" stroke-width="0.4" stroke-linecap="butt"/>
<line x1="13.2" y1="143.6" x2="167.2" y2="143.6" stroke="rgba(255,255,255,0.13)" stroke-width="0.4" stroke-linecap="butt"/>
<line x1="13.2" y1="147.8" x2="167.2" y2="147.8" stroke="rgba(255,255,255,0.13)" stroke-width="0.4" stroke-linecap="butt"/>
<line x1="13.2" y1="152.0" x2="167.2" y2="152.0" stroke="rgba(255,255,255,0.13)" stroke-width="0.4" stroke-linecap="butt"/>
<line x1="13.2" y1="156.2" x2="167.2" y2="156.2" stroke="rgba(255,255,255,0.13)" stroke-width="0.4" stroke-linecap="butt"/>
<line x1="13.2" y1="160.4" x2="167.2" y2="160.4" stroke="rgba(255,255,255,0.13)" stroke-width="0.4" stroke-linecap="butt"/>
<line x1="13.2" y1="164.7" x2="167.2" y2="164.7" stroke="rgba(255,255,255,0.13)" stroke-width="0.4" stroke-linecap="butt"/>
<line x1="13.2" y1="168.9" x2="167.2" y2="168.9" stroke="rgba(255,255,255,0.13)" stroke-width="0.4" stroke-linecap="butt"/>
<line x1="13.2" y1="173.1" x2="167.2" y2="173.1" stroke="rgba(255,255,255,0.13)" stroke-width="0.4" stroke-linecap="butt"/>
<line x1="13.2" y1="177.3" x2="167.2" y2="177.3" stroke="rgba(255,255,255,0.13)" stroke-width="0.4" stroke-linecap="butt"/>
<line x1="13.2" y1="181.5" x2="167.2" y2="181.5" stroke="rgba(255,255,255,0.13)" stroke-width="0.4" stroke-linecap="butt"/>
<line x1="13.2" y1="185.7" x2="167.2" y2="185.7" stroke="rgba(255,255,255,0.13)" stroke-width="0.4" stroke-linecap="butt"/>
<line x1="13.2" y1="189.9" x2="167.2" y2="189.9" stroke="rgba(255,255,255,0.13)" stroke-width="0.4" stroke-linecap="butt"/>
<line x1="13.2" y1="194.2" x2="167.2" y2="194.2" stroke="rgba(255,255,255,0.13)" stroke-width="0.4" stroke-linecap="butt"/>
<line x1="13.2" y1="198.4" x2="167.2" y2="198.4" stroke="rgba(255,255,255,0.13)" stroke-width="0.4" stroke-linecap="butt"/>
<line x1="13.2" y1="202.6" x2="167.2" y2="202.6" stroke="rgba(255,255,255,0.13)" stroke-width="0.4" stroke-linecap="butt"/>
<line x1="13.2" y1="206.8" x2="167.2" y2="206.8" stroke="rgba(255,255,255,0.13)" stroke-width="0.4" stroke-linecap="butt"/>
<line x1="13.2" y1="211.0" x2="167.2" y2="211.0" stroke="rgba(255,255,255,0.13)" stroke-width="0.4" stroke-linecap="butt"/>
<line x1="13.2" y1="215.2" x2="167.2" y2="215.2" stroke="rgba(255,255,255,0.13)" stroke-width="0.4" stroke-linecap="butt"/>
<line x1="13.2" y1="219.4" x2="167.2" y2="219.4" stroke="rgba(255,255,255,0.13)" stroke-width="0.4" stroke-linecap="butt"/>
<line x1="13.2" y1="223.7" x2="167.2" y2="223.7" stroke="rgba(255,255,255,0.13)" stroke-width="0.4" stroke-linecap="butt"/>
<line x1="13.2" y1="227.9" x2="167.2" y2="227.9" stroke="rgba(255,255,255,0.13)" stroke-width="0.4" stroke-linecap="butt"/>
<line x1="13.2" y1="232.1" x2="167.2" y2="232.1" stroke="rgba(255,255,255,0.13)" stroke-width="0.4" stroke-linecap="butt"/>
<line x1="13.2" y1="236.3" x2="167.2" y2="236.3" stroke="rgba(255,255,255,0.13)" stroke-width="0.4" stroke-linecap="butt"/>
<line x1="13.2" y1="240.5" x2="167.2" y2="240.5" stroke="rgba(255,255,255,0.13)" stroke-width="0.4" stroke-linecap="butt"/>
<line x1="13.2" y1="244.7" x2="167.2" y2="244.7" stroke="rgba(255,255,255,0.13)" stroke-width="0.4" stroke-linecap="butt"/>
<line x1="13.2" y1="248.9" x2="167.2" y2="248.9" stroke="rgba(255,255,255,0.13)" stroke-width="0.4" stroke-linecap="butt"/>
<line x1="13.2" y1="253.2" x2="167.2" y2="253.2" stroke="rgba(255,255,255,0.13)" stroke-width="0.4" stroke-linecap="butt"/>
<line x1="13.2" y1="257.4" x2="167.2" y2="257.4" stroke="rgba(255,255,255,0.13)" stroke-width="0.4" stroke-linecap="butt"/>
<line x1="13.2" y1="261.6" x2="167.2" y2="261.6" stroke="rgba(255,255,255,0.13)" stroke-width="0.4" stroke-linecap="butt"/>
<line x1="13.2" y1="265.8" x2="167.2" y2="265.8" stroke="rgba(255,255,255,0.13)" stroke-width="0.4" stroke-linecap="butt"/>
<line x1="13.2" y1="270.0" x2="167.2" y2="270.0" stroke="rgba(255,255,255,0.13)" stroke-width="0.4" stroke-linecap="butt"/>
<line x1="13.2" y1="274.2" x2="167.2" y2="274.2" stroke="rgba(255,255,255,0.13)" stroke-width="0.4" stroke-linecap="butt"/>
<line x1="13.2" y1="278.4" x2="167.2" y2="278.4" stroke="rgba(255,255,255,0.13)" stroke-width="0.4" stroke-linecap="butt"/>
<line x1="13.2" y1="282.7" x2="167.2" y2="282.7" stroke="rgba(255,255,255,0.13)" stroke-width="0.4" stroke-linecap="butt"/>
<line x1="13.2" y1="286.9" x2="167.2" y2="286.9" stroke="rgba(255,255,255,0.13)" stroke-width="0.4" stroke-linecap="butt"/>
<line x1="13.2" y1="291.1" x2="167.2" y2="291.1" stroke="rgba(255,255,255,0.13)" stroke-width="0.4" stroke-linecap="butt"/>
<line x1="13.2" y1="295.3" x2="167.2" y2="295.3" stroke="rgba(255,255,255,0.13)" stroke-width="0.4" stroke-linecap="butt"/>
<line x1="13.2" y1="299.5" x2="167.2" y2="299.5" stroke="rgba(255,255,255,0.13)" stroke-width="0.4" stroke-linecap="butt"/>
<line x1="13.2" y1="303.7" x2="167.2" y2="303.7" stroke="rgba(255,255,255,0.13)" stroke-width="0.4" stroke-linecap="butt"/>
<line x1="13.2" y1="307.9" x2="167.2" y2="307.9" stroke="rgba(255,255,255,0.13)" stroke-width="0.4" stroke-linecap="butt"/>
<line x1="13.2" y1="312.2" x2="167.2" y2="312.2" stroke="rgba(255,255,255,0.13)" stroke-width="0.4" stroke-linecap="butt"/>
<line x1="13.2" y1="316.4" x2="167.2" y2="316.4" stroke="rgba(255,255,255,0.13)" stroke-width="0.4" stroke-linecap="butt"/>
<line x1="13.2" y1="320.6" x2="167.2" y2="320.6" stroke="rgba(255,255,255,0.13)" stroke-width="0.4" stroke-linecap="butt"/>
<line x1="13.2" y1="324.8" x2="167.2" y2="324.8" stroke="rgba(255,255,255,0.13)" stroke-width="0.4" stroke-linecap="butt"/>
<line x1="13.2" y1="329.0" x2="167.2" y2="329.0" stroke="rgba(255,255,255,0.13)" stroke-width="0.4" stroke-linecap="butt"/>
<line x1="13.2" y1="333.2" x2="167.2" y2="333.2" stroke="rgba(255,255,255,0.13)" stroke-width="0.4" stroke-linecap="butt"/>
<line x1="13.2" y1="337.4" x2="167.2" y2="337.4" stroke="rgba(255,255,255,0.13)" stroke-width="0.4" stroke-linecap="butt"/>
<line x1="13.2" y1="341.7" x2="167.2" y2="341.7" stroke="rgba(255,255,255,0.13)" stroke-width="0.4" stroke-linecap="butt"/>
<line x1="13.2" y1="345.9" x2="167.2" y2="345.9" stroke="rgba(255,255,255,0.13)" stroke-width="0.4" stroke-linecap="butt"/>
<line x1="13.2" y1="350.1" x2="167.2" y2="350.1" stroke="rgba(255,255,255,0.13)" stroke-width="0.4" stroke-linecap="butt"/>
<line x1="13.2" y1="354.3" x2="167.2" y2="354.3" stroke="rgba(255,255,255,0.13)" stroke-width="0.4" stroke-linecap="butt"/>
<line x1="13.2" y1="358.5" x2="167.2" y2="358.5" stroke="rgba(255,255,255,0.13)" stroke-width="0.4" stroke-linecap="butt"/>
<line x1="13.2" y1="362.7" x2="167.2" y2="362.7" stroke="rgba(255,255,255,0.13)" stroke-width="0.4" stroke-linecap="butt"/>
<line x1="13.2" y1="366.9" x2="167.2" y2="366.9" stroke="rgba(255,255,255,0.13)" stroke-width="0.4" stroke-linecap="butt"/>
<line x1="13.2" y1="371.2" x2="167.2" y2="371.2" stroke="rgba(255,255,255,0.13)" stroke-width="0.4" stroke-linecap="butt"/>
<line x1="13.2" y1="375.4" x2="167.2" y2="375.4" stroke="rgba(255,255,255,0.13)" stroke-width="0.4" stroke-linecap="butt"/>
<line x1="13.2" y1="379.6" x2="167.2" y2="379.6" stroke="rgba(255,255,255,0.13)" stroke-width="0.4" stroke-linecap="butt"/>
<line x1="13.2" y1="383.8" x2="167.2" y2="383.8" stroke="rgba(255,255,255,0.13)" stroke-width="0.4" stroke-linecap="butt"/>
<line x1="13.2" y1="388.0" x2="167.2" y2="388.0" stroke="rgba(255,255,255,0.13)" stroke-width="0.4" stroke-linecap="butt"/>
<line x1="13.2" y1="392.2" x2="167.2" y2="392.2" stroke="rgba(255,255,255,0.13)" stroke-width="0.4" stroke-linecap="butt"/>
<line x1="13.2" y1="396.4" x2="167.2" y2="396.4" stroke="rgba(255,255,255,0.13)" stroke-width="0.4" stroke-linecap="butt"/>
<line x1="13.2" y1="400.7" x2="167.2" y2="400.7" stroke="rgba(255,255,255,0.13)" stroke-width="0.4" stroke-linecap="butt"/>
<line x1="13.2" y1="404.9" x2="167.2" y2="404.9" stroke="rgba(255,255,255,0.13)" stroke-width="0.4" stroke-linecap="butt"/>
<line x1="13.2" y1="409.1" x2="167.2" y2="409.1" stroke="rgba(255,255,255,0.13)" stroke-width="0.4" stroke-linecap="butt"/>
<line x1="13.2" y1="413.3" x2="167.2" y2="413.3" stroke="rgba(255,255,255,0.13)" stroke-width="0.4" stroke-linecap="butt"/>
<line x1="13.2" y1="417.5" x2="167.2" y2="417.5" stroke="rgba(255,255,255,0.13)" stroke-width="0.4" stroke-linecap="butt"/>
<line x1="13.2" y1="421.7" x2="167.2" y2="421.7" stroke="rgba(255,255,255,0.13)" stroke-width="0.4" stroke-linecap="butt"/>
<line x1="13.2" y1="425.9" x2="167.2" y2="425.9" stroke="rgba(255,255,255,0.13)" stroke-width="0.4" stroke-linecap="butt"/>
<line x1="13.2" y1="430.2" x2="167.2" y2="430.2" stroke="rgba(255,255,255,0.13)" stroke-width="0.4" stroke-linecap="butt"/>
<line x1="13.2" y1="434.4" x2="167.2" y2="434.4" stroke="rgba(255,255,255,0.13)" stroke-width="0.4" stroke-linecap="butt"/>
<line x1="13.2" y1="438.6" x2="167.2" y2="438.6" stroke="rgba(255,255,255,0.13)" stroke-width="0.4" stroke-linecap="butt"/>
<line x1="13.2" y1="442.8" x2="167.2" y2="442.8" stroke="rgba(255,255,255,0.13)" stroke-width="0.4" stroke-linecap="butt"/>
<line x1="13.2" y1="447.0" x2="167.2" y2="447.0" stroke="rgba(255,255,255,0.13)" stroke-width="0.4" stroke-linecap="butt"/>
<line x1="13.2" y1="451.2" x2="167.2" y2="451.2" stroke="rgba(255,255,255,0.13)" stroke-width="0.4" stroke-linecap="butt"/>
<line x1="13.2" y1="455.4" x2="167.2" y2="455.4" stroke="rgba(255,255,255,0.13)" stroke-width="0.4" stroke-linecap="butt"/>
<line x1="13.2" y1="459.7" x2="167.2" y2="459.7" stroke="rgba(255,255,255,0.13)" stroke-width="0.4" stroke-linecap="butt"/>
<line x1="13.2" y1="463.9" x2="167.2" y2="463.9" stroke="rgba(255,255,255,0.13)" stroke-width="0.4" stroke-linecap="butt"/>
<line x1="13.2" y1="468.1" x2="167.2" y2="468.1" stroke="rgba(255,255,255,0.13)" stroke-width="0.4" stroke-linecap="butt"/>
<line x1="13.2" y1="472.3" x2="167.2" y2="472.3" stroke="rgba(255,255,255,0.13)" stroke-width="0.4" stroke-linecap="butt"/>
<line x1="13.2" y1="476.5" x2="167.2" y2="476.5" stroke="rgba(255,255,255,0.13)" stroke-width="0.4" stroke-linecap="butt"/>
<line x1="13.2" y1="480.7" x2="167.2" y2="480.7" stroke="rgba(255,255,255,0.13)" stroke-width="0.4" stroke-linecap="butt"/>
<line x1="13.2" y1="484.9" x2="167.2" y2="484.9" stroke="rgba(255,255,255,0.13)" stroke-width="0.4" stroke-linecap="butt"/>
<line x1="13.2" y1="489.2" x2="167.2" y2="489.2" stroke="rgba(255,255,255,0.13)" stroke-width="0.4" stroke-linecap="butt"/>
<line x1="13.2" y1="493.4" x2="167.2" y2="493.4" stroke="rgba(255,255,255,0.13)" stroke-width="0.4" stroke-linecap="butt"/>
<line x1="13.2" y1="497.6" x2="167.2" y2="497.6" stroke="rgba(255,255,255,0.13)" stroke-width="0.4" stroke-linecap="butt"/>
<line x1="13.2" y1="501.8" x2="167.2" y2="501.8" stroke="rgba(255,255,255,0.13)" stroke-width="0.4" stroke-linecap="butt"/>
<line x1="13.2" y1="506.0" x2="167.2" y2="506.0" stroke="rgba(255,255,255,0.13)" stroke-width="0.4" stroke-linecap="butt"/>
<line x1="13.2" y1="510.2" x2="167.2" y2="510.2" stroke="rgba(255,255,255,0.13)" stroke-width="0.4" stroke-linecap="butt"/>
<line x1="13.2" y1="514.4" x2="167.2" y2="514.4" stroke="rgba(255,255,255,0.13)" stroke-width="0.4" stroke-linecap="butt"/>
<line x1="13.2" y1="518.7" x2="167.2" y2="518.7" stroke="rgba(255,255,255,0.13)" stroke-width="0.4" stroke-linecap="butt"/>
<line x1="13.2" y1="522.9" x2="167.2" y2="522.9" stroke="rgba(255,255,255,0.13)" stroke-width="0.4" stroke-linecap="butt"/>
<line x1="13.2" y1="527.1" x2="167.2" y2="527.1" stroke="rgba(255,255,255,0.13)" stroke-width="0.4" stroke-linecap="butt"/>
<line x1="13.2" y1="531.3" x2="167.2" y2="531.3" stroke="rgba(255,255,255,0.13)" stroke-width="0.4" stroke-linecap="butt"/>
<line x1="13.2" y1="535.5" x2="167.2" y2="535.5" stroke="rgba(255,255,255,0.13)" stroke-width="0.4" stroke-linecap="butt"/>
<line x1="13.2" y1="539.7" x2="167.2" y2="539.7" stroke="rgba(255,255,255,0.13)" stroke-width="0.4" stroke-linecap="butt"/>
<line x1="13.2" y1="543.9" x2="167.2" y2="543.9" stroke="rgba(255,255,255,0.13)" stroke-width="0.4" stroke-linecap="butt"/>
<line x1="13.2" y1="548.2" x2="167.2" y2="548.2" stroke="rgba(255,255,255,0.13)" stroke-width="0.4" stroke-linecap="butt"/>
<line x1="13.2" y1="552.4" x2="167.2" y2="552.4" stroke="rgba(255,255,255,0.13)" stroke-width="0.4" stroke-linecap="butt"/>
<line x1="13.2" y1="556.6" x2="167.2" y2="556.6" stroke="rgba(255,255,255,0.13)" stroke-width="0.4" stroke-linecap="butt"/>
<line x1="13.2" y1="560.8" x2="167.2" y2="560.8" stroke="rgba(255,255,255,0.13)" stroke-width="0.4" stroke-linecap="butt"/>
<line x1="13.2" y1="565.0" x2="167.2" y2="565.0" stroke="rgba(255,255,255,0.13)" stroke-width="0.4" stroke-linecap="butt"/>
<line x1="13.2" y1="569.2" x2="167.2" y2="569.2" stroke="rgba(255,255,255,0.13)" stroke-width="0.4" stroke-linecap="butt"/>
<line x1="13.2" y1="573.4" x2="167.2" y2="573.4" stroke="rgba(255,255,255,0.13)" stroke-width="0.4" stroke-linecap="butt"/>
<line x1="13.2" y1="577.7" x2="167.2" y2="577.7" stroke="rgba(255,255,255,0.13)" stroke-width="0.4" stroke-linecap="butt"/>
<line x1="13.2" y1="581.9" x2="167.2" y2="581.9" stroke="rgba(255,255,255,0.13)" stroke-width="0.4" stroke-linecap="butt"/>
<line x1="13.2" y1="586.1" x2="167.2" y2="586.1" stroke="rgba(255,255,255,0.13)" stroke-width="0.4" stroke-linecap="butt"/>
<line x1="13.2" y1="590.3" x2="167.2" y2="590.3" stroke="rgba(255,255,255,0.13)" stroke-width="0.4" stroke-linecap="butt"/>
<line x1="13.2" y1="594.5" x2="167.2" y2="594.5" stroke="rgba(255,255,255,0.13)" stroke-width="0.4" stroke-linecap="butt"/>
<line x1="13.2" y1="598.7" x2="167.2" y2="598.7" stroke="rgba(255,255,255,0.13)" stroke-width="0.4" stroke-linecap="butt"/>
<line x1="13.2" y1="602.9" x2="167.2" y2="602.9" stroke="rgba(255,255,255,0.13)" stroke-width="0.4" stroke-linecap="butt"/>
<line x1="13.2" y1="607.2" x2="167.2" y2="607.2" stroke="rgba(255,255,255,0.13)" stroke-width="0.4" stroke-linecap="butt"/>
<line x1="13.2" y1="611.4" x2="167.2" y2="611.4" stroke="rgba(255,255,255,0.13)" stroke-width="0.4" stroke-linecap="butt"/>
<line x1="13.2" y1="615.6" x2="167.2" y2="615.6" stroke="rgba(255,255,255,0.13)" stroke-width="0.4" stroke-linecap="butt"/>
<line x1="51.6" y1="29.8" x2="51.6" y2="619.8" stroke="rgba(255,255,255,0.18)" stroke-width="0.4" stroke-linecap="butt"/>
<line x1="90.1" y1="29.8" x2="90.1" y2="619.8" stroke="rgba(255,255,255,0.18)" stroke-width="0.4" stroke-linecap="butt"/>
<line x1="128.6" y1="29.8" x2="128.6" y2="619.8" stroke="rgba(255,255,255,0.18)" stroke-width="0.4" stroke-linecap="butt"/>
<text x="0.6" y="9.7" font-size="10.6" text-anchor="start" font-weight="normal" fill="#111" stroke="#111" stroke-width="0.22">A</text>
<text x="51.1" y="19.2" font-size="8.8" text-anchor="middle" font-weight="normal" fill="#111" stroke="#111" stroke-width="0.22" textLength="34.4" lengthAdjust="spacingAndGlyphs">WT moLC</text>
<text x="130.5" y="19.2" font-size="8.8" text-anchor="middle" font-weight="normal" fill="#111" stroke="#111" stroke-width="0.22" textLength="34.4" lengthAdjust="spacingAndGlyphs">KO moLC</text>
<line x1="13.9" y1="25.3" x2="88.3" y2="25.3" stroke="#000" stroke-width="1.5" stroke-linecap="butt"/>
<line x1="93.4" y1="25.3" x2="167.2" y2="25.3" stroke="#000" stroke-width="1.5" stroke-linecap="butt"/>
<line x1="167.6" y1="238.5" x2="174.0" y2="238.5" stroke="#000" stroke-width="1.0" stroke-linecap="butt"/>
<text x="174.9" y="241.8" font-size="8.8" text-anchor="start" font-weight="normal" fill="#000" stroke="#000" stroke-width="0.22" textLength="20.1" lengthAdjust="spacingAndGlyphs">Itgam</text>
<line x1="167.6" y1="297.5" x2="174.0" y2="297.5" stroke="#000" stroke-width="1.0" stroke-linecap="butt"/>
<text x="174.9" y="300.8" font-size="8.8" text-anchor="start" font-weight="normal" fill="#000" stroke="#000" stroke-width="0.22" textLength="13.8" lengthAdjust="spacingAndGlyphs">Pirb</text>
<line x1="167.6" y1="390.5" x2="174.0" y2="390.5" stroke="#000" stroke-width="1.0" stroke-linecap="butt"/>
<text x="174.9" y="393.8" font-size="8.8" text-anchor="start" font-weight="normal" fill="#000" stroke="#000" stroke-width="0.22" textLength="15.5" lengthAdjust="spacingAndGlyphs">Ccl2</text>
<line x1="167.6" y1="441.5" x2="174.0" y2="441.5" stroke="#000" stroke-width="1.0" stroke-linecap="butt"/>
<text x="174.9" y="444.8" font-size="8.8" text-anchor="start" font-weight="normal" fill="#000" stroke="#000" stroke-width="0.22" textLength="15.5" lengthAdjust="spacingAndGlyphs">Ccl9</text>
<line x1="167.6" y1="475.5" x2="174.0" y2="475.5" stroke="#000" stroke-width="1.0" stroke-linecap="butt"/>
<text x="174.9" y="478.8" font-size="8.8" text-anchor="start" font-weight="normal" fill="#000" stroke="#000" stroke-width="0.22" textLength="23.2" lengthAdjust="spacingAndGlyphs">Cxcl13</text>
<line x1="167.6" y1="550.5" x2="174.0" y2="550.5" stroke="#000" stroke-width="1.0" stroke-linecap="butt"/>
<text x="174.9" y="553.8" font-size="8.8" text-anchor="start" font-weight="normal" fill="#000" stroke="#000" stroke-width="0.22" textLength="19.3" lengthAdjust="spacingAndGlyphs">Ccl12</text>
<defs><linearGradient id="ck" x1="0" x2="1" y1="0" y2="0"><stop offset="0" stop-color="#3cff1e"/><stop offset="0.33" stop-color="#3cff1e"/><stop offset="0.66" stop-color="#000"/><stop offset="0.97" stop-color="#e8281a"/><stop offset="1" stop-color="#ff2010"/></linearGradient></defs>
<rect x="17.9" y="633.4" width="74.1" height="5.8" fill="url(#ck)"/>
<text x="55.0" y="630.6" font-size="4.2" text-anchor="middle" font-weight="bold" fill="#111" stroke="#111" stroke-width="0.22">Color Key</text>
<text x="19.0" y="643.8" font-size="3.6" text-anchor="middle" font-weight="bold" fill="#222" stroke="#222" stroke-width="0.22">−10</text>
<text x="42.8" y="643.8" font-size="3.6" text-anchor="middle" font-weight="bold" fill="#222" stroke="#222" stroke-width="0.22">−5</text>
<text x="66.8" y="643.8" font-size="3.6" text-anchor="middle" font-weight="bold" fill="#222" stroke="#222" stroke-width="0.22">0</text>
<text x="90.8" y="643.8" font-size="3.6" text-anchor="middle" font-weight="bold" fill="#222" stroke="#222" stroke-width="0.22">5</text>
<text x="210.2" y="10.0" font-size="10.6" text-anchor="start" font-weight="normal" fill="#111" stroke="#111" stroke-width="0.22">B</text>
<line x1="231.5" y1="19.5" x2="231.5" y2="148.0" stroke="#d9d9d9" stroke-width="0.5" stroke-linecap="butt"/>
<rect x="232.10" y="22.00" width="195.27" height="4.40" fill="#4472c4"/>
<text x="227.0" y="25.8" font-size="4.6" text-anchor="end" font-weight="normal" fill="#595959" stroke="#595959" stroke-width="0.05">Nfkb1</text>
<rect x="232.10" y="30.54" width="141.25" height="4.40" fill="#4472c4"/>
<text x="227.0" y="34.3" font-size="4.6" text-anchor="end" font-weight="normal" fill="#595959" stroke="#595959" stroke-width="0.05">Spi1</text>
<rect x="232.10" y="39.08" width="86.14" height="4.40" fill="#4472c4"/>
<text x="227.0" y="42.9" font-size="4.6" text-anchor="end" font-weight="normal" fill="#595959" stroke="#595959" stroke-width="0.05">Jun</text>
<rect x="232.10" y="47.62" width="83.95" height="4.40" fill="#4472c4"/>
<text x="227.0" y="51.4" font-size="4.6" text-anchor="end" font-weight="normal" fill="#595959" stroke="#595959" stroke-width="0.05">Rela</text>
<rect x="232.10" y="56.16" width="83.95" height="4.40" fill="#4472c4"/>
<text x="227.0" y="60.0" font-size="4.6" text-anchor="end" font-weight="normal" fill="#595959" stroke="#595959" stroke-width="0.05">Sp1</text>
<rect x="232.10" y="64.70" width="80.66" height="4.40" fill="#4472c4"/>
<text x="227.0" y="68.5" font-size="4.6" text-anchor="end" font-weight="normal" fill="#595959" stroke="#595959" stroke-width="0.05">Trp53</text>
<rect x="232.10" y="73.24" width="68.62" height="4.40" fill="#4472c4"/>
<text x="227.0" y="77.0" font-size="4.6" text-anchor="end" font-weight="normal" fill="#595959" stroke="#595959" stroke-width="0.05">Irf8</text>
<rect x="232.10" y="81.78" width="59.13" height="4.40" fill="#4472c4"/>
<text x="227.0" y="85.6" font-size="4.6" text-anchor="end" font-weight="normal" fill="#595959" stroke="#595959" stroke-width="0.05">Stat1</text>
<rect x="232.10" y="90.32" width="59.13" height="4.40" fill="#4472c4"/>
<text x="227.0" y="94.1" font-size="4.6" text-anchor="end" font-weight="normal" fill="#595959" stroke="#595959" stroke-width="0.05">Ets1</text>
<rect x="232.10" y="98.86" width="44.89" height="4.40" fill="#4472c4"/>
<text x="227.0" y="102.7" font-size="4.6" text-anchor="end" font-weight="normal" fill="#595959" stroke="#595959" stroke-width="0.05">Nfe2l2</text>
<rect x="232.10" y="107.40" width="40.15" height="4.40" fill="#4472c4"/>
<text x="227.0" y="111.2" font-size="4.6" text-anchor="end" font-weight="normal" fill="#595959" stroke="#595959" stroke-width="0.05">Hdac1</text>
<rect x="232.10" y="115.94" width="38.33" height="4.40" fill="#4472c4"/>
<text x="227.0" y="119.7" font-size="4.6" text-anchor="end" font-weight="normal" fill="#595959" stroke="#595959" stroke-width="0.05">Irf1</text>
<rect x="232.10" y="124.48" width="38.33" height="4.40" fill="#4472c4"/>
<text x="227.0" y="128.3" font-size="4.6" text-anchor="end" font-weight="normal" fill="#595959" stroke="#595959" stroke-width="0.05">Cebpb</text>
<rect x="232.10" y="133.02" width="38.33" height="4.40" fill="#4472c4"/>
<text x="227.0" y="136.8" font-size="4.6" text-anchor="end" font-weight="normal" fill="#595959" stroke="#595959" stroke-width="0.05">Ets2</text>
<rect x="232.10" y="141.56" width="38.33" height="4.40" fill="#4472c4"/>
<text x="227.0" y="145.4" font-size="4.6" text-anchor="end" font-weight="normal" fill="#595959" stroke="#595959" stroke-width="0.05">Stat3</text>
<line x1="231.5" y1="147.7" x2="450.8" y2="147.7" stroke="#9ab3e0" stroke-width="0.6" stroke-linecap="butt"/>
<line x1="231.7" y1="147.7" x2="231.7" y2="149.6" stroke="#9ab3e0" stroke-width="0.5" stroke-linecap="butt"/>
<text x="231.7" y="157.2" font-size="4.9" text-anchor="middle" font-weight="normal" fill="#595959" stroke="#595959" stroke-width="0.05">0</text>
<line x1="268.2" y1="147.7" x2="268.2" y2="149.6" stroke="#9ab3e0" stroke-width="0.5" stroke-linecap="butt"/>
<text x="268.2" y="157.2" font-size="4.9" text-anchor="middle" font-weight="normal" fill="#595959" stroke="#595959" stroke-width="0.05">1</text>
<line x1="304.7" y1="147.7" x2="304.7" y2="149.6" stroke="#9ab3e0" stroke-width="0.5" stroke-linecap="butt"/>
<text x="304.7" y="157.2" font-size="4.9" text-anchor="middle" font-weight="normal" fill="#595959" stroke="#595959" stroke-width="0.05">2</text>
<line x1="341.2" y1="147.7" x2="341.2" y2="149.6" stroke="#9ab3e0" stroke-width="0.5" stroke-linecap="butt"/>
<text x="341.2" y="157.2" font-size="4.9" text-anchor="middle" font-weight="normal" fill="#595959" stroke="#595959" stroke-width="0.05">3</text>
<line x1="377.7" y1="147.7" x2="377.7" y2="149.6" stroke="#9ab3e0" stroke-width="0.5" stroke-linecap="butt"/>
<text x="377.7" y="157.2" font-size="4.9" text-anchor="middle" font-weight="normal" fill="#595959" stroke="#595959" stroke-width="0.05">4</text>
<line x1="414.2" y1="147.7" x2="414.2" y2="149.6" stroke="#9ab3e0" stroke-width="0.5" stroke-linecap="butt"/>
<text x="414.2" y="157.2" font-size="4.9" text-anchor="middle" font-weight="normal" fill="#595959" stroke="#595959" stroke-width="0.05">5</text>
<line x1="450.7" y1="147.7" x2="450.7" y2="149.6" stroke="#9ab3e0" stroke-width="0.5" stroke-linecap="butt"/>
<text x="450.7" y="157.2" font-size="4.9" text-anchor="middle" font-weight="normal" fill="#595959" stroke="#595959" stroke-width="0.05">6</text>
<text x="342.0" y="166.2" font-size="5.8" text-anchor="middle" font-weight="normal" fill="#595959" stroke="#595959" stroke-width="0.05" textLength="68.7" lengthAdjust="spacingAndGlyphs">-log10 (Adjusted p value)</text>
<text x="209.2" y="83.4" font-size="5.6" text-anchor="middle" font-weight="normal" fill="#595959" stroke="#595959" stroke-width="0.05" textLength="86.7" lengthAdjust="spacingAndGlyphs" transform="rotate(-90 209.2 83.4)">Enriched Transcription Factors</text>
<text x="465.3" y="9.7" font-size="10.6" text-anchor="start" font-weight="normal" fill="#111" stroke="#111" stroke-width="0.22">C</text>
<text x="558.5" y="21.0" font-size="9.7" text-anchor="middle" font-weight="normal" fill="#111" stroke="#111" stroke-width="0.22" textLength="42.5" lengthAdjust="spacingAndGlyphs">WT moLC</text>
<text x="609.5" y="21.0" font-size="9.7" text-anchor="middle" font-weight="normal" fill="#111" stroke="#111" stroke-width="0.22" textLength="41.0" lengthAdjust="spacingAndGlyphs">KO moLC</text>
<line x1="538.6" y1="26.5" x2="578.0" y2="26.5" stroke="#000" stroke-width="1.6" stroke-linecap="butt"/>
<line x1="586.4" y1="26.5" x2="625.8" y2="26.5" stroke="#000" stroke-width="1.6" stroke-linecap="butt"/>
<text x="524.7" y="39.0" font-size="9" text-anchor="end" font-weight="normal" fill="#000" stroke="#000" stroke-width="0.22" textLength="44.9" lengthAdjust="spacingAndGlyphs">Imiquimod:</text>
<text x="524.4" y="53.0" font-size="9" text-anchor="end" font-weight="normal" fill="#000" stroke="#000" stroke-width="0.22" textLength="17.6" lengthAdjust="spacingAndGlyphs">DOI:</text>
<line x1="541.2" y1="35.9" x2="545.4" y2="35.9" stroke="#111" stroke-width="0.9" stroke-linecap="butt"/>
<line x1="543.3" y1="33.8" x2="543.3" y2="38.0" stroke="#111" stroke-width="0.9" stroke-linecap="butt"/>
<line x1="543.4" y1="50.6" x2="546.0" y2="50.6" stroke="#222" stroke-width="0.9" stroke-linecap="butt"/>
<line x1="566.2" y1="35.9" x2="570.4" y2="35.9" stroke="#111" stroke-width="0.9" stroke-linecap="butt"/>
<line x1="568.3" y1="33.8" x2="568.3" y2="38.0" stroke="#111" stroke-width="0.9" stroke-linecap="butt"/>
<line x1="566.9" y1="50.2" x2="571.1" y2="50.2" stroke="#111" stroke-width="0.9" stroke-linecap="butt"/>
<line x1="569.0" y1="48.1" x2="569.0" y2="52.3" stroke="#111" stroke-width="0.9" stroke-linecap="butt"/>
<line x1="591.3" y1="35.9" x2="595.5" y2="35.9" stroke="#111" stroke-width="0.9" stroke-linecap="butt"/>
<line x1="593.4" y1="33.8" x2="593.4" y2="38.0" stroke="#111" stroke-width="0.9" stroke-linecap="butt"/>
<line x1="593.5" y1="50.6" x2="596.1" y2="50.6" stroke="#222" stroke-width="0.9" stroke-linecap="butt"/>
<line x1="614.5" y1="35.9" x2="618.7" y2="35.9" stroke="#111" stroke-width="0.9" stroke-linecap="butt"/>
<line x1="616.6" y1="33.8" x2="616.6" y2="38.0" stroke="#111" stroke-width="0.9" stroke-linecap="butt"/>
<line x1="615.2" y1="50.2" x2="619.4" y2="50.2" stroke="#111" stroke-width="0.9" stroke-linecap="butt"/>
<line x1="617.3" y1="48.1" x2="617.3" y2="52.3" stroke="#111" stroke-width="0.9" stroke-linecap="butt"/>
<text x="523.3" y="73.7" font-size="10" text-anchor="end" font-weight="normal" fill="#000" stroke="#000" stroke-width="0.22" textLength="21.6" lengthAdjust="spacingAndGlyphs">P100</text>
<text x="523.3" y="101.4" font-size="10" text-anchor="end" font-weight="normal" fill="#000" stroke="#000" stroke-width="0.22" textLength="16.4" lengthAdjust="spacingAndGlyphs">P52</text>
<text x="523.3" y="129.0" font-size="10" text-anchor="end" font-weight="normal" fill="#000" stroke="#000" stroke-width="0.22" textLength="20.3" lengthAdjust="spacingAndGlyphs">RelB</text>
<text x="523.3" y="157.6" font-size="10" text-anchor="end" font-weight="normal" fill="#000" stroke="#000" stroke-width="0.22" textLength="32.9" lengthAdjust="spacingAndGlyphs">GAPDH</text>
<defs><filter id="b0" x="-30%" y="-60%" width="160%" height="220%"><feGaussianBlur stdDeviation="0.55"/></filter><filter id="b1" x="-30%" y="-60%" width="160%" height="220%"><feGaussianBlur stdDeviation="0.8"/></filter><filter id="b2" x="-30%" y="-60%" width="160%" height="220%"><feGaussianBlur stdDeviation="1.6"/></filter><filter id="b3" x="-30%" y="-60%" width="160%" height="220%"><feGaussianBlur stdDeviation="0.9"/></filter></defs>
<rect x="532.6" y="61.7" width="97" height="21.5" fill="#fafafa" filter="url(#b1)"/>
<rect x="532.6" y="84.2" width="96" height="24.6" fill="#f0f0f0" filter="url(#b1)"/>
<rect x="540.4" y="67.6" width="15.8" height="2.1" rx="1.1" fill="#000" opacity="1" filter="url(#b0)" transform="rotate(0 548.3 68.7)"/>
<rect x="562.8" y="67.9" width="16.4" height="2.2" rx="1.1" fill="#000" opacity="1" filter="url(#b0)" transform="rotate(0 571.0 69.0)"/>
<rect x="586.0" y="67.7" width="14.0" height="1.4" rx="0.7" fill="#ccc" opacity="0.7" filter="url(#b1)" transform="rotate(0 593.0 68.4)"/>
<rect x="545.3" y="94.6" width="12.3" height="6.0" rx="3.0" fill="#505050" opacity="0.8" filter="url(#b2)" transform="rotate(0 551.5 97.6)"/>
<rect x="566.5" y="95.4" width="12.3" height="4.4" rx="2.2" fill="#888" opacity="0.55" filter="url(#b2)" transform="rotate(0 572.6 97.6)"/>
<rect x="567.5" y="95.8" width="4.0" height="3.5" rx="1.8" fill="#666" opacity="0.6" filter="url(#b2)" transform="rotate(0 569.5 97.5)"/>
<rect x="574.0" y="95.8" width="4.0" height="3.5" rx="1.8" fill="#666" opacity="0.6" filter="url(#b2)" transform="rotate(0 576.0 97.5)"/>
<rect x="587.0" y="93.2" width="14.5" height="7.4" rx="3.0" fill="#000" opacity="1" filter="url(#b2)" transform="rotate(0 594.2 96.9)"/>
<rect x="588.5" y="94.5" width="12.0" height="4.8" rx="2.4" fill="#000" opacity="1" filter="url(#b2)" transform="rotate(0 594.5 96.9)"/>
<rect x="590.0" y="99.0" width="4.0" height="4.5" rx="2.2" fill="#777" opacity="0.6" filter="url(#b2)" transform="rotate(0 592.0 101.2)"/>
<rect x="609.3" y="94.0" width="12.0" height="4.4" rx="2.2" fill="#707070" opacity="0.75" filter="url(#b2)" transform="rotate(0 615.3 96.2)"/>
<path d="M536.7 115.2 L554.8 115.2 Q556.3 115.2 556.3 116.7 L556.3 121.6 C556.3 128.5 535.2 128.5 535.2 121.6 L535.2 116.7 Q535.2 115.2 536.7 115.2 Z" fill="#000" filter="url(#b3)" transform="rotate(0 545.8 121.0)"/>
<rect x="545.0" y="125.5" width="7.0" height="4.5" rx="2.2" fill="#555" opacity="0.6" filter="url(#b2)" transform="rotate(0 548.5 127.8)"/>
<path d="M559.9 115.6 L578.8 115.6 Q580.3 115.6 580.3 117.1 L580.3 124.0 C580.3 134.4 558.4 134.4 558.4 124.0 L558.4 117.1 Q558.4 115.6 559.9 115.6 Z" fill="#000" filter="url(#b3)" transform="rotate(0 569.3 123.7)"/>
<path d="M584.2 114.9 L601.8 114.9 Q603.3 114.9 603.3 116.4 L603.3 121.5 C603.3 129.1 582.7 129.1 582.7 121.5 L582.7 116.4 Q582.7 114.9 584.2 114.9 Z" fill="#000" filter="url(#b3)" transform="rotate(0 593.0 121.1)"/>
<path d="M608.4 115.6 L616.5 115.6 Q618.0 115.6 618.0 117.1 L618.0 120.5 C618.0 127.0 606.9 127.0 606.9 120.5 L606.9 117.1 Q606.9 115.6 608.4 115.6 Z" fill="#000" filter="url(#b3)" transform="rotate(0 612.5 120.5)"/>
<path d="M616.5 113.3 L627.7 113.3 Q629.2 113.3 629.2 114.8 L629.2 118.6 C629.2 125.8 615.0 125.8 615.0 118.6 L615.0 114.8 Q615.0 113.3 616.5 113.3 Z" fill="#000" filter="url(#b3)" transform="rotate(-8 622.1 118.7)"/>
<rect x="538.8" y="145.2" width="16.4" height="7.0" rx="3.0" fill="#000" opacity="1" filter="url(#b3)" transform="rotate(0 547.0 148.7)"/>
<rect x="561.1" y="146.0" width="17.4" height="7.2" rx="3.0" fill="#000" opacity="1" filter="url(#b3)" transform="rotate(0 569.8 149.6)"/>
<rect x="585.4" y="144.9" width="16.6" height="7.4" rx="3.0" fill="#000" opacity="1" filter="url(#b3)" transform="rotate(-4 593.7 148.6)"/>
<rect x="609.2" y="141.0" width="16.4" height="6.8" rx="3.0" fill="#000" opacity="1" filter="url(#b3)" transform="rotate(-11 617.4 144.4)"/>
<text x="204.6" y="193.5" font-size="10.6" text-anchor="start" font-weight="normal" fill="#111" stroke="#111" stroke-width="0.22">D</text>
<text x="289.2" y="214.4" font-size="9" text-anchor="middle" font-weight="normal" fill="#111" stroke="#111" stroke-width="0.22" textLength="38.1" lengthAdjust="spacingAndGlyphs">p&lt;0.0001</text>
<line x1="245.9" y1="219.3" x2="332.8" y2="219.3" stroke="#000" stroke-width="1.55" stroke-linecap="butt"/>
<text x="275.9" y="230.7" font-size="9" text-anchor="middle" font-weight="normal" fill="#111" stroke="#111" stroke-width="0.22" textLength="39.0" lengthAdjust="spacingAndGlyphs">p=0.0199</text>
<line x1="245.9" y1="235.6" x2="305.5" y2="235.6" stroke="#000" stroke-width="1.55" stroke-linecap="butt"/>
<text x="260.0" y="247.3" font-size="9" text-anchor="middle" font-weight="normal" fill="#111" stroke="#111" stroke-width="0.22" textLength="38.1" lengthAdjust="spacingAndGlyphs">p=0.0052</text>
<line x1="245.9" y1="252.2" x2="274.4" y2="252.2" stroke="#000" stroke-width="1.55" stroke-linecap="butt"/>
<line x1="234.9" y1="231.9" x2="234.9" y2="345.0" stroke="#000" stroke-width="1.3" stroke-linecap="butt"/>
<line x1="234.2" y1="344.4" x2="345.6" y2="344.4" stroke="#000" stroke-width="1.3" stroke-linecap="butt"/>
<line x1="229.9" y1="232.6" x2="234.9" y2="232.6" stroke="#000" stroke-width="1.3" stroke-linecap="butt"/>
<text x="229.2" y="235.6" font-size="8.2" text-anchor="end" font-weight="bold" fill="#111" stroke="#111" stroke-width="0.22">50</text>
<line x1="229.9" y1="255.0" x2="234.9" y2="255.0" stroke="#000" stroke-width="1.3" stroke-linecap="butt"/>
<text x="229.2" y="257.9" font-size="8.2" text-anchor="end" font-weight="bold" fill="#111" stroke="#111" stroke-width="0.22">40</text>
<line x1="229.9" y1="277.3" x2="234.9" y2="277.3" stroke="#000" stroke-width="1.3" stroke-linecap="butt"/>
<text x="229.2" y="280.3" font-size="8.2" text-anchor="end" font-weight="bold" fill="#111" stroke="#111" stroke-width="0.22">30</text>
<line x1="229.9" y1="299.7" x2="234.9" y2="299.7" stroke="#000" stroke-width="1.3" stroke-linecap="butt"/>
<text x="229.2" y="302.6" font-size="8.2" text-anchor="end" font-weight="bold" fill="#111" stroke="#111" stroke-width="0.22">20</text>
<line x1="229.9" y1="322.0" x2="234.9" y2="322.0" stroke="#000" stroke-width="1.3" stroke-linecap="butt"/>
<text x="229.2" y="325.0" font-size="8.2" text-anchor="end" font-weight="bold" fill="#111" stroke="#111" stroke-width="0.22">10</text>
<line x1="229.9" y1="344.4" x2="234.9" y2="344.4" stroke="#000" stroke-width="1.3" stroke-linecap="butt"/>
<text x="229.2" y="347.4" font-size="8.2" text-anchor="end" font-weight="bold" fill="#111" stroke="#111" stroke-width="0.22">0</text>
<line x1="251.7" y1="344.4" x2="251.7" y2="350.4" stroke="#000" stroke-width="1.3" stroke-linecap="butt"/>
<line x1="277.4" y1="344.4" x2="277.4" y2="350.4" stroke="#000" stroke-width="1.3" stroke-linecap="butt"/>
<line x1="303.1" y1="344.4" x2="303.1" y2="350.4" stroke="#000" stroke-width="1.3" stroke-linecap="butt"/>
<line x1="328.8" y1="344.4" x2="328.8" y2="350.4" stroke="#000" stroke-width="1.3" stroke-linecap="butt"/>
<text x="214.8" y="289.2" font-size="8.8" text-anchor="middle" font-weight="bold" fill="#111" stroke="#111" stroke-width="0.22" textLength="63.6" lengthAdjust="spacingAndGlyphs" transform="rotate(-90 214.8 289.2)">IL-23a (pg/mL)</text>
<circle cx="251.8" cy="285.0" r="2.3" fill="#000"/>
<circle cx="245.9" cy="299.8" r="2.3" fill="#000"/>
<circle cx="252.5" cy="300.7" r="2.3" fill="#000"/>
<circle cx="257.6" cy="301.9" r="2.3" fill="#000"/>
<circle cx="251.8" cy="311.2" r="2.3" fill="#000"/>
<line x1="243.2" y1="299.8" x2="260.4" y2="299.8" stroke="#000" stroke-width="0.9" stroke-linecap="butt"/>
<line x1="251.8" y1="295.4" x2="251.8" y2="304.1" stroke="#000" stroke-width="0.765" stroke-linecap="butt"/>
<line x1="247.7" y1="295.4" x2="255.9" y2="295.4" stroke="#000" stroke-width="0.765" stroke-linecap="butt"/>
<line x1="247.7" y1="304.1" x2="255.9" y2="304.1" stroke="#000" stroke-width="0.765" stroke-linecap="butt"/>
<rect x="272.50" y="310.90" width="4.40" height="4.40" fill="#000"/>
<rect x="278.20" y="311.20" width="4.40" height="4.40" fill="#000"/>
<rect x="269.50" y="315.00" width="4.40" height="4.40" fill="#000"/>
<rect x="275.40" y="315.00" width="4.40" height="4.40" fill="#000"/>
<rect x="281.10" y="319.80" width="4.40" height="4.40" fill="#000"/>
<line x1="268.9" y1="316.5" x2="286.1" y2="316.5" stroke="#000" stroke-width="0.9" stroke-linecap="butt"/>
<line x1="277.5" y1="314.6" x2="277.5" y2="318.8" stroke="#000" stroke-width="0.765" stroke-linecap="butt"/>
<line x1="273.4" y1="314.6" x2="281.6" y2="314.6" stroke="#000" stroke-width="0.765" stroke-linecap="butt"/>
<line x1="273.4" y1="318.8" x2="281.6" y2="318.8" stroke="#000" stroke-width="0.765" stroke-linecap="butt"/>
<polygon points="300.3,302.3 297.5,307.3 303.1,307.3" fill="#000"/>
<polygon points="306.0,307.8 303.2,312.8 308.8,312.8" fill="#000"/>
<polygon points="297.1,314.6 294.3,319.6 299.9,319.6" fill="#000"/>
<polygon points="303.0,316.0 300.2,321.0 305.8,321.0" fill="#000"/>
<polygon points="308.7,316.0 305.9,321.0 311.5,321.0" fill="#000"/>
<line x1="294.3" y1="313.6" x2="311.7" y2="313.6" stroke="#000" stroke-width="0.9" stroke-linecap="butt"/>
<line x1="303.0" y1="310.8" x2="303.0" y2="316.5" stroke="#000" stroke-width="0.765" stroke-linecap="butt"/>
<line x1="298.9" y1="310.8" x2="307.1" y2="310.8" stroke="#000" stroke-width="0.765" stroke-linecap="butt"/>
<line x1="298.9" y1="316.5" x2="307.1" y2="316.5" stroke="#000" stroke-width="0.765" stroke-linecap="butt"/>
<polygon points="328.6,255.7 325.8,250.7 331.4,250.7" fill="#000"/>
<polygon points="324.3,265.6 321.5,260.6 327.1,260.6" fill="#000"/>
<polygon points="330.0,264.6 327.2,259.6 332.8,259.6" fill="#000"/>
<polygon points="332.4,266.5 329.6,261.5 335.2,261.5" fill="#000"/>
<polygon points="325.0,267.5 322.2,262.5 327.8,262.5" fill="#000"/>
<polygon points="333.0,272.6 330.2,267.6 335.8,267.6" fill="#000"/>
<line x1="320.0" y1="262.4" x2="337.4" y2="262.4" stroke="#000" stroke-width="0.9" stroke-linecap="butt"/>
<line x1="328.7" y1="259.5" x2="328.7" y2="265.2" stroke="#000" stroke-width="0.765" stroke-linecap="butt"/>
<line x1="324.6" y1="259.5" x2="332.8" y2="259.5" stroke="#000" stroke-width="0.765" stroke-linecap="butt"/>
<line x1="324.6" y1="265.2" x2="332.8" y2="265.2" stroke="#000" stroke-width="0.765" stroke-linecap="butt"/>
<line x1="246.7" y1="353.3" x2="306.0" y2="353.3" stroke="#000" stroke-width="1.0" stroke-linecap="butt"/>
<line x1="318.6" y1="353.3" x2="340.0" y2="353.3" stroke="#000" stroke-width="1.0" stroke-linecap="butt"/>
<text x="276.7" y="361.6" font-size="6.9" text-anchor="middle" font-weight="normal" fill="#111" stroke="#111" stroke-width="0.22" textLength="28.0" lengthAdjust="spacingAndGlyphs">WT moLC</text>
<text x="328.5" y="363.0" font-size="6.9" text-anchor="middle" font-weight="normal" fill="#111" stroke="#111" stroke-width="0.22" textLength="27.0" lengthAdjust="spacingAndGlyphs">KO moLC</text>
<text x="234.5" y="374.0" font-size="6.9" text-anchor="end" font-weight="normal" fill="#000" stroke="#000" stroke-width="0.22" textLength="34.0" lengthAdjust="spacingAndGlyphs">Imiquimod:</text>
<line x1="249.8" y1="371.7" x2="253.5" y2="371.7" stroke="#111" stroke-width="0.8" stroke-linecap="butt"/>
<line x1="251.7" y1="369.8" x2="251.7" y2="373.6" stroke="#111" stroke-width="0.8" stroke-linecap="butt"/>
<line x1="275.5" y1="371.7" x2="279.2" y2="371.7" stroke="#111" stroke-width="0.8" stroke-linecap="butt"/>
<line x1="277.4" y1="369.8" x2="277.4" y2="373.6" stroke="#111" stroke-width="0.8" stroke-linecap="butt"/>
<line x1="301.2" y1="371.7" x2="305.0" y2="371.7" stroke="#111" stroke-width="0.8" stroke-linecap="butt"/>
<line x1="303.1" y1="369.8" x2="303.1" y2="373.6" stroke="#111" stroke-width="0.8" stroke-linecap="butt"/>
<line x1="326.9" y1="371.7" x2="330.7" y2="371.7" stroke="#111" stroke-width="0.8" stroke-linecap="butt"/>
<line x1="328.8" y1="369.8" x2="328.8" y2="373.6" stroke="#111" stroke-width="0.8" stroke-linecap="butt"/>
<text x="234.5" y="385.8" font-size="6.9" text-anchor="end" font-weight="normal" fill="#000" stroke="#000" stroke-width="0.22" textLength="13.5" lengthAdjust="spacingAndGlyphs">DOI:</text>
<line x1="250.6" y1="383.9" x2="252.8" y2="383.9" stroke="#333" stroke-width="0.8" stroke-linecap="butt"/>
<line x1="275.5" y1="383.5" x2="279.2" y2="383.5" stroke="#111" stroke-width="0.8" stroke-linecap="butt"/>
<line x1="277.4" y1="381.6" x2="277.4" y2="385.4" stroke="#111" stroke-width="0.8" stroke-linecap="butt"/>
<line x1="302.0" y1="383.9" x2="304.2" y2="383.9" stroke="#333" stroke-width="0.8" stroke-linecap="butt"/>
<line x1="327.7" y1="383.9" x2="329.9" y2="383.9" stroke="#333" stroke-width="0.8" stroke-linecap="butt"/>
<text x="234.5" y="397.8" font-size="6.9" text-anchor="end" font-weight="normal" fill="#000" stroke="#000" stroke-width="0.22" textLength="29.0" lengthAdjust="spacingAndGlyphs">EVP 4593:</text>
<line x1="250.6" y1="395.9" x2="252.8" y2="395.9" stroke="#333" stroke-width="0.8" stroke-linecap="butt"/>
<line x1="276.3" y1="395.9" x2="278.5" y2="395.9" stroke="#333" stroke-width="0.8" stroke-linecap="butt"/>
<line x1="301.2" y1="395.5" x2="305.0" y2="395.5" stroke="#111" stroke-width="0.8" stroke-linecap="butt"/>
<line x1="303.1" y1="393.6" x2="303.1" y2="397.4" stroke="#111" stroke-width="0.8" stroke-linecap="butt"/>
<line x1="327.7" y1="395.9" x2="329.9" y2="395.9" stroke="#333" stroke-width="0.8" stroke-linecap="butt"/>
<text x="364.6" y="193.5" font-size="10.6" text-anchor="start" font-weight="normal" fill="#111" stroke="#111" stroke-width="0.22" textLength="5.0" lengthAdjust="spacingAndGlyphs">E</text>
<text x="454.7" y="214.4" font-size="9" text-anchor="middle" font-weight="normal" fill="#111" stroke="#111" stroke-width="0.22" textLength="40.2" lengthAdjust="spacingAndGlyphs">p=0.0313</text>
<line x1="413.4" y1="220.2" x2="496.3" y2="220.2" stroke="#000" stroke-width="1.55" stroke-linecap="butt"/>
<text x="443.8" y="233.5" font-size="9" text-anchor="middle" font-weight="normal" fill="#111" stroke="#111" stroke-width="0.22" textLength="40.9" lengthAdjust="spacingAndGlyphs">p=0.0062</text>
<line x1="413.4" y1="239.1" x2="474.1" y2="239.1" stroke="#000" stroke-width="1.55" stroke-linecap="butt"/>
<text x="427.8" y="249.4" font-size="9" text-anchor="middle" font-weight="normal" fill="#111" stroke="#111" stroke-width="0.22" textLength="40.2" lengthAdjust="spacingAndGlyphs">p=0.0381</text>
<line x1="413.4" y1="255.3" x2="442.6" y2="255.3" stroke="#000" stroke-width="1.55" stroke-linecap="butt"/>
<line x1="399.4" y1="222.3" x2="399.4" y2="341.9" stroke="#000" stroke-width="1.3" stroke-linecap="butt"/>
<line x1="398.8" y1="341.3" x2="515.5" y2="341.3" stroke="#000" stroke-width="1.3" stroke-linecap="butt"/>
<line x1="394.4" y1="223.0" x2="399.4" y2="223.0" stroke="#000" stroke-width="1.3" stroke-linecap="butt"/>
<text x="393.0" y="226.0" font-size="8.2" text-anchor="end" font-weight="bold" fill="#111" stroke="#111" stroke-width="0.22">15</text>
<line x1="394.4" y1="262.4" x2="399.4" y2="262.4" stroke="#000" stroke-width="1.3" stroke-linecap="butt"/>
<text x="393.0" y="265.4" font-size="8.2" text-anchor="end" font-weight="bold" fill="#111" stroke="#111" stroke-width="0.22">10</text>
<line x1="394.4" y1="301.9" x2="399.4" y2="301.9" stroke="#000" stroke-width="1.3" stroke-linecap="butt"/>
<text x="393.0" y="304.8" font-size="8.2" text-anchor="end" font-weight="bold" fill="#111" stroke="#111" stroke-width="0.22">5</text>
<line x1="394.4" y1="341.3" x2="399.4" y2="341.3" stroke="#000" stroke-width="1.3" stroke-linecap="butt"/>
<text x="393.0" y="344.2" font-size="8.2" text-anchor="end" font-weight="bold" fill="#111" stroke="#111" stroke-width="0.22">0</text>
<line x1="416.4" y1="341.3" x2="416.4" y2="347.3" stroke="#000" stroke-width="1.3" stroke-linecap="butt"/>
<line x1="443.6" y1="341.3" x2="443.6" y2="347.3" stroke="#000" stroke-width="1.3" stroke-linecap="butt"/>
<line x1="471.0" y1="341.3" x2="471.0" y2="347.3" stroke="#000" stroke-width="1.3" stroke-linecap="butt"/>
<line x1="498.0" y1="341.3" x2="498.0" y2="347.3" stroke="#000" stroke-width="1.3" stroke-linecap="butt"/>
<text x="376.8" y="282.0" font-size="8.8" text-anchor="middle" font-weight="bold" fill="#111" stroke="#111" stroke-width="0.22" textLength="89.0" lengthAdjust="spacingAndGlyphs" transform="rotate(-90 376.8 282.0)">IL17+ IL22+ Cells %</text>
<circle cx="416.8" cy="284.8" r="2.3" fill="#000"/>
<circle cx="410.9" cy="297.9" r="2.3" fill="#000"/>
<circle cx="417.9" cy="295.6" r="2.3" fill="#000"/>
<circle cx="416.6" cy="299.2" r="2.3" fill="#000"/>
<circle cx="422.6" cy="305.1" r="2.3" fill="#000"/>
<line x1="408.0" y1="296.2" x2="425.6" y2="296.2" stroke="#000" stroke-width="0.9" stroke-linecap="butt"/>
<line x1="416.8" y1="292.8" x2="416.8" y2="299.6" stroke="#000" stroke-width="0.765" stroke-linecap="butt"/>
<line x1="412.6" y1="292.8" x2="421.0" y2="292.8" stroke="#000" stroke-width="0.765" stroke-linecap="butt"/>
<line x1="412.6" y1="299.6" x2="421.0" y2="299.6" stroke="#000" stroke-width="0.765" stroke-linecap="butt"/>
<rect x="437.10" y="294.20" width="4.40" height="4.40" fill="#000"/>
<rect x="446.30" y="300.80" width="4.40" height="4.40" fill="#000"/>
<rect x="441.70" y="311.40" width="4.40" height="4.40" fill="#000"/>
<rect x="437.10" y="323.20" width="4.40" height="4.40" fill="#000"/>
<rect x="446.30" y="325.50" width="4.40" height="4.40" fill="#000"/>
<line x1="435.0" y1="313.1" x2="452.6" y2="313.1" stroke="#000" stroke-width="0.9" stroke-linecap="butt"/>
<line x1="443.8" y1="307.4" x2="443.8" y2="319.1" stroke="#000" stroke-width="0.765" stroke-linecap="butt"/>
<line x1="439.5" y1="307.4" x2="448.1" y2="307.4" stroke="#000" stroke-width="0.765" stroke-linecap="butt"/>
<line x1="439.5" y1="319.1" x2="448.1" y2="319.1" stroke="#000" stroke-width="0.765" stroke-linecap="butt"/>
<polygon points="471.0,309.9 468.2,314.9 473.8,314.9" fill="#000"/>
<polygon points="465.3,314.4 462.5,319.4 468.1,319.4" fill="#000"/>
<polygon points="469.7,317.9 466.9,322.9 472.5,322.9" fill="#000"/>
<polygon points="472.6,318.4 469.8,323.4 475.4,323.4" fill="#000"/>
<polygon points="476.9,319.8 474.1,324.8 479.7,324.8" fill="#000"/>
<line x1="462.2" y1="318.4" x2="479.8" y2="318.4" stroke="#000" stroke-width="0.9" stroke-linecap="butt"/>
<line x1="471.0" y1="316.5" x2="471.0" y2="320.5" stroke="#000" stroke-width="0.765" stroke-linecap="butt"/>
<line x1="466.8" y1="316.5" x2="475.2" y2="316.5" stroke="#000" stroke-width="0.765" stroke-linecap="butt"/>
<line x1="466.8" y1="320.5" x2="475.2" y2="320.5" stroke="#000" stroke-width="0.765" stroke-linecap="butt"/>
<polygon points="498.0,265.0 495.2,260.0 500.8,260.0" fill="#000"/>
<polygon points="493.4,277.9 490.6,272.9 496.2,272.9" fill="#000"/>
<polygon points="502.5,279.2 499.7,274.2 505.3,274.2" fill="#000"/>
<polygon points="493.4,289.9 490.6,284.9 496.2,284.9" fill="#000"/>
<polygon points="502.5,294.0 499.7,289.0 505.3,289.0" fill="#000"/>
<line x1="489.1" y1="278.7" x2="507.1" y2="278.7" stroke="#000" stroke-width="0.9" stroke-linecap="butt"/>
<line x1="498.1" y1="273.8" x2="498.1" y2="283.7" stroke="#000" stroke-width="0.765" stroke-linecap="butt"/>
<line x1="493.8" y1="273.8" x2="502.4" y2="273.8" stroke="#000" stroke-width="0.765" stroke-linecap="butt"/>
<line x1="493.8" y1="283.7" x2="502.4" y2="283.7" stroke="#000" stroke-width="0.765" stroke-linecap="butt"/>
<line x1="411.7" y1="353.2" x2="473.7" y2="353.2" stroke="#000" stroke-width="1.0" stroke-linecap="butt"/>
<line x1="487.5" y1="353.2" x2="509.0" y2="353.2" stroke="#000" stroke-width="1.0" stroke-linecap="butt"/>
<text x="442.4" y="361.6" font-size="6.9" text-anchor="middle" font-weight="normal" fill="#111" stroke="#111" stroke-width="0.22" textLength="28.0" lengthAdjust="spacingAndGlyphs">WT moLC</text>
<text x="498.4" y="363.2" font-size="6.9" text-anchor="middle" font-weight="normal" fill="#111" stroke="#111" stroke-width="0.22" textLength="27.0" lengthAdjust="spacingAndGlyphs">KO moLC</text>
<text x="398.5" y="376.2" font-size="6.9" text-anchor="end" font-weight="normal" fill="#000" stroke="#000" stroke-width="0.22" textLength="34.0" lengthAdjust="spacingAndGlyphs">Imiquimod:</text>
<line x1="414.5" y1="373.9" x2="418.2" y2="373.9" stroke="#111" stroke-width="0.8" stroke-linecap="butt"/>
<line x1="416.4" y1="372.0" x2="416.4" y2="375.8" stroke="#111" stroke-width="0.8" stroke-linecap="butt"/>
<line x1="441.8" y1="373.9" x2="445.5" y2="373.9" stroke="#111" stroke-width="0.8" stroke-linecap="butt"/>
<line x1="443.6" y1="372.0" x2="443.6" y2="375.8" stroke="#111" stroke-width="0.8" stroke-linecap="butt"/>
<line x1="469.1" y1="373.9" x2="472.9" y2="373.9" stroke="#111" stroke-width="0.8" stroke-linecap="butt"/>
<line x1="471.0" y1="372.0" x2="471.0" y2="375.8" stroke="#111" stroke-width="0.8" stroke-linecap="butt"/>
<line x1="496.1" y1="373.9" x2="499.9" y2="373.9" stroke="#111" stroke-width="0.8" stroke-linecap="butt"/>
<line x1="498.0" y1="372.0" x2="498.0" y2="375.8" stroke="#111" stroke-width="0.8" stroke-linecap="butt"/>
<text x="398.5" y="388.3" font-size="6.9" text-anchor="end" font-weight="normal" fill="#000" stroke="#000" stroke-width="0.22" textLength="13.5" lengthAdjust="spacingAndGlyphs">DOI:</text>
<line x1="415.3" y1="386.4" x2="417.5" y2="386.4" stroke="#333" stroke-width="0.8" stroke-linecap="butt"/>
<line x1="441.8" y1="386.0" x2="445.5" y2="386.0" stroke="#111" stroke-width="0.8" stroke-linecap="butt"/>
<line x1="443.6" y1="384.1" x2="443.6" y2="387.9" stroke="#111" stroke-width="0.8" stroke-linecap="butt"/>
<line x1="469.9" y1="386.4" x2="472.1" y2="386.4" stroke="#333" stroke-width="0.8" stroke-linecap="butt"/>
<line x1="496.9" y1="386.4" x2="499.1" y2="386.4" stroke="#333" stroke-width="0.8" stroke-linecap="butt"/>
<text x="398.5" y="400.3" font-size="6.9" text-anchor="end" font-weight="normal" fill="#000" stroke="#000" stroke-width="0.22" textLength="29.0" lengthAdjust="spacingAndGlyphs">EVP 4593:</text>
<line x1="415.3" y1="398.4" x2="417.5" y2="398.4" stroke="#333" stroke-width="0.8" stroke-linecap="butt"/>
<line x1="442.5" y1="398.4" x2="444.7" y2="398.4" stroke="#333" stroke-width="0.8" stroke-linecap="butt"/>
<line x1="469.1" y1="398.0" x2="472.9" y2="398.0" stroke="#111" stroke-width="0.8" stroke-linecap="butt"/>
<line x1="471.0" y1="396.1" x2="471.0" y2="399.9" stroke="#111" stroke-width="0.8" stroke-linecap="butt"/>
<line x1="496.9" y1="398.4" x2="499.1" y2="398.4" stroke="#333" stroke-width="0.8" stroke-linecap="butt"/>
<text x="524.0" y="194.2" font-size="10.6" text-anchor="start" font-weight="normal" fill="#111" stroke="#111" stroke-width="0.22" textLength="4.8" lengthAdjust="spacingAndGlyphs">F</text>
<text x="614.2" y="215.6" font-size="9" text-anchor="middle" font-weight="normal" fill="#111" stroke="#111" stroke-width="0.22" textLength="39.7" lengthAdjust="spacingAndGlyphs">p=0.0002</text>
<line x1="578.7" y1="220.7" x2="649.5" y2="220.7" stroke="#000" stroke-width="1.55" stroke-linecap="butt"/>
<text x="592.2" y="233.5" font-size="9" text-anchor="middle" font-weight="normal" fill="#111" stroke="#111" stroke-width="0.22" textLength="39.7" lengthAdjust="spacingAndGlyphs">p=0.0020</text>
<line x1="580.1" y1="238.9" x2="604.9" y2="238.9" stroke="#000" stroke-width="1.55" stroke-linecap="butt"/>
<text x="659.1" y="233.5" font-size="9" text-anchor="middle" font-weight="normal" fill="#111" stroke="#111" stroke-width="0.22" textLength="40.2" lengthAdjust="spacingAndGlyphs">p=0.0072</text>
<line x1="646.0" y1="239.6" x2="671.7" y2="239.6" stroke="#000" stroke-width="1.55" stroke-linecap="butt"/>
<text x="615.0" y="254.6" font-size="9" text-anchor="middle" font-weight="normal" fill="#111" stroke="#111" stroke-width="0.22" textLength="39.7" lengthAdjust="spacingAndGlyphs">p=0.0055</text>
<line x1="602.1" y1="260.6" x2="627.8" y2="260.6" stroke="#000" stroke-width="1.55" stroke-linecap="butt"/>
<line x1="568.2" y1="223.8" x2="568.2" y2="340.9" stroke="#000" stroke-width="1.3" stroke-linecap="butt"/>
<line x1="567.6" y1="340.3" x2="685.0" y2="340.3" stroke="#000" stroke-width="1.3" stroke-linecap="butt"/>
<line x1="563.2" y1="224.4" x2="568.2" y2="224.4" stroke="#000" stroke-width="1.3" stroke-linecap="butt"/>
<text x="562.0" y="227.4" font-size="8.2" text-anchor="end" font-weight="bold" fill="#111" stroke="#111" stroke-width="0.22">20</text>
<line x1="563.2" y1="253.4" x2="568.2" y2="253.4" stroke="#000" stroke-width="1.3" stroke-linecap="butt"/>
<text x="562.0" y="256.4" font-size="8.2" text-anchor="end" font-weight="bold" fill="#111" stroke="#111" stroke-width="0.22">15</text>
<line x1="563.2" y1="282.4" x2="568.2" y2="282.4" stroke="#000" stroke-width="1.3" stroke-linecap="butt"/>
<text x="562.0" y="285.4" font-size="8.2" text-anchor="end" font-weight="bold" fill="#111" stroke="#111" stroke-width="0.22">10</text>
<line x1="563.2" y1="311.4" x2="568.2" y2="311.4" stroke="#000" stroke-width="1.3" stroke-linecap="butt"/>
<text x="562.0" y="314.4" font-size="8.2" text-anchor="end" font-weight="bold" fill="#111" stroke="#111" stroke-width="0.22">5</text>
<line x1="563.2" y1="340.4" x2="568.2" y2="340.4" stroke="#000" stroke-width="1.3" stroke-linecap="butt"/>
<text x="562.0" y="343.4" font-size="8.2" text-anchor="end" font-weight="bold" fill="#111" stroke="#111" stroke-width="0.22">0</text>
<line x1="582.5" y1="340.3" x2="582.5" y2="346.3" stroke="#000" stroke-width="1.3" stroke-linecap="butt"/>
<line x1="604.2" y1="340.3" x2="604.2" y2="346.3" stroke="#000" stroke-width="1.3" stroke-linecap="butt"/>
<line x1="625.9" y1="340.3" x2="625.9" y2="346.3" stroke="#000" stroke-width="1.3" stroke-linecap="butt"/>
<line x1="647.6" y1="340.3" x2="647.6" y2="346.3" stroke="#000" stroke-width="1.3" stroke-linecap="butt"/>
<line x1="669.3" y1="340.3" x2="669.3" y2="346.3" stroke="#000" stroke-width="1.3" stroke-linecap="butt"/>
<text x="546.5" y="282.9" font-size="8.8" text-anchor="middle" font-weight="bold" fill="#111" stroke="#111" stroke-width="0.22" textLength="64.3" lengthAdjust="spacingAndGlyphs" transform="rotate(-90 546.5 282.9)">IL-23+ Cells %</text>
<circle cx="582.9" cy="316.5" r="2.3" fill="#000"/>
<circle cx="577.8" cy="324.1" r="2.3" fill="#000"/>
<circle cx="580.2" cy="325.8" r="2.3" fill="#000"/>
<circle cx="582.9" cy="328.3" r="2.3" fill="#000"/>
<circle cx="587.3" cy="328.6" r="2.3" fill="#000"/>
<line x1="575.9" y1="324.1" x2="590.1" y2="324.1" stroke="#000" stroke-width="0.9" stroke-linecap="butt"/>
<line x1="583.0" y1="321.6" x2="583.0" y2="326.7" stroke="#000" stroke-width="0.765" stroke-linecap="butt"/>
<line x1="578.9" y1="321.6" x2="587.1" y2="321.6" stroke="#000" stroke-width="0.765" stroke-linecap="butt"/>
<line x1="578.9" y1="326.7" x2="587.1" y2="326.7" stroke="#000" stroke-width="0.765" stroke-linecap="butt"/>
<rect x="602.30" y="273.30" width="4.40" height="4.40" fill="#000"/>
<rect x="598.30" y="284.30" width="4.40" height="4.40" fill="#000"/>
<rect x="602.50" y="284.90" width="4.40" height="4.40" fill="#000"/>
<rect x="606.50" y="285.20" width="4.40" height="4.40" fill="#000"/>
<line x1="597.1" y1="285.0" x2="611.9" y2="285.0" stroke="#000" stroke-width="0.9" stroke-linecap="butt"/>
<line x1="604.5" y1="281.4" x2="604.5" y2="288.6" stroke="#000" stroke-width="0.765" stroke-linecap="butt"/>
<line x1="600.7" y1="281.4" x2="608.3" y2="281.4" stroke="#000" stroke-width="0.765" stroke-linecap="butt"/>
<line x1="600.7" y1="288.6" x2="608.3" y2="288.6" stroke="#000" stroke-width="0.765" stroke-linecap="butt"/>
<polygon points="626.2,307.0 623.4,312.0 629.0,312.0" fill="#000"/>
<polygon points="622.4,310.3 619.6,315.3 625.2,315.3" fill="#000"/>
<polygon points="630.2,314.1 627.4,319.1 633.0,319.1" fill="#000"/>
<polygon points="626.2,338.7 623.4,343.7 629.0,343.7" fill="#000"/>
<line x1="619.0" y1="319.7" x2="633.4" y2="319.7" stroke="#000" stroke-width="0.9" stroke-linecap="butt"/>
<line x1="626.2" y1="312.1" x2="626.2" y2="327.3" stroke="#000" stroke-width="0.765" stroke-linecap="butt"/>
<line x1="622.4" y1="312.1" x2="630.0" y2="312.1" stroke="#000" stroke-width="0.765" stroke-linecap="butt"/>
<line x1="622.4" y1="327.3" x2="630.0" y2="327.3" stroke="#000" stroke-width="0.765" stroke-linecap="butt"/>
<polygon points="647.6,257.4 644.8,252.4 650.4,252.4" fill="#000"/>
<polygon points="647.6,265.6 644.8,260.6 650.4,260.6" fill="#000"/>
<polygon points="647.6,286.1 644.8,281.1 650.4,281.1" fill="#000"/>
<polygon points="647.6,295.0 644.8,290.0 650.4,290.0" fill="#000"/>
<line x1="640.4" y1="273.6" x2="655.0" y2="273.6" stroke="#000" stroke-width="0.9" stroke-linecap="butt"/>
<line x1="647.7" y1="264.7" x2="647.7" y2="282.1" stroke="#000" stroke-width="0.765" stroke-linecap="butt"/>
<line x1="643.9" y1="264.7" x2="651.5" y2="264.7" stroke="#000" stroke-width="0.765" stroke-linecap="butt"/>
<line x1="643.9" y1="282.1" x2="651.5" y2="282.1" stroke="#000" stroke-width="0.765" stroke-linecap="butt"/>
<polygon points="669.4,293.9 666.7,296.6 669.4,299.3 672.1,296.6" fill="#000"/>
<polygon points="666.0,301.8 663.3,304.5 666.0,307.2 668.7,304.5" fill="#000"/>
<polygon points="673.2,303.3 670.5,306.0 673.2,308.7 675.9,306.0" fill="#000"/>
<polygon points="669.4,321.4 666.7,324.1 669.4,326.8 672.1,324.1" fill="#000"/>
<line x1="662.2" y1="307.4" x2="676.8" y2="307.4" stroke="#000" stroke-width="0.9" stroke-linecap="butt"/>
<line x1="669.5" y1="301.7" x2="669.5" y2="313.4" stroke="#000" stroke-width="0.765" stroke-linecap="butt"/>
<line x1="666.0" y1="301.7" x2="673.0" y2="301.7" stroke="#000" stroke-width="0.765" stroke-linecap="butt"/>
<line x1="666.0" y1="313.4" x2="673.0" y2="313.4" stroke="#000" stroke-width="0.765" stroke-linecap="butt"/>
<line x1="571.0" y1="354.5" x2="675.5" y2="354.5" stroke="#000" stroke-width="1.0" stroke-linecap="butt"/>
<text x="618.8" y="362.6" font-size="6.9" text-anchor="middle" font-weight="normal" fill="#111" stroke="#111" stroke-width="0.22" textLength="28.0" lengthAdjust="spacingAndGlyphs">WT moLC</text>
<text x="564.4" y="375.3" font-size="6.9" text-anchor="end" font-weight="normal" fill="#000" stroke="#000" stroke-width="0.22" textLength="34.0" lengthAdjust="spacingAndGlyphs">Imiquimod:</text>
<line x1="581.4" y1="373.4" x2="583.6" y2="373.4" stroke="#333" stroke-width="0.8" stroke-linecap="butt"/>
<line x1="602.4" y1="373.0" x2="606.1" y2="373.0" stroke="#111" stroke-width="0.8" stroke-linecap="butt"/>
<line x1="604.2" y1="371.1" x2="604.2" y2="374.9" stroke="#111" stroke-width="0.8" stroke-linecap="butt"/>
<line x1="624.0" y1="373.0" x2="627.8" y2="373.0" stroke="#111" stroke-width="0.8" stroke-linecap="butt"/>
<line x1="625.9" y1="371.1" x2="625.9" y2="374.9" stroke="#111" stroke-width="0.8" stroke-linecap="butt"/>
<line x1="646.5" y1="373.4" x2="648.7" y2="373.4" stroke="#333" stroke-width="0.8" stroke-linecap="butt"/>
<line x1="668.2" y1="373.4" x2="670.4" y2="373.4" stroke="#333" stroke-width="0.8" stroke-linecap="butt"/>
<text x="564.4" y="387.8" font-size="6.9" text-anchor="end" font-weight="normal" fill="#000" stroke="#000" stroke-width="0.22" textLength="21.0" lengthAdjust="spacingAndGlyphs">CD40L:</text>
<line x1="581.4" y1="385.9" x2="583.6" y2="385.9" stroke="#333" stroke-width="0.8" stroke-linecap="butt"/>
<line x1="603.1" y1="385.9" x2="605.3" y2="385.9" stroke="#333" stroke-width="0.8" stroke-linecap="butt"/>
<line x1="624.8" y1="385.9" x2="627.0" y2="385.9" stroke="#333" stroke-width="0.8" stroke-linecap="butt"/>
<line x1="645.8" y1="385.5" x2="649.5" y2="385.5" stroke="#111" stroke-width="0.8" stroke-linecap="butt"/>
<line x1="647.6" y1="383.6" x2="647.6" y2="387.4" stroke="#111" stroke-width="0.8" stroke-linecap="butt"/>
<line x1="667.4" y1="385.5" x2="671.1" y2="385.5" stroke="#111" stroke-width="0.8" stroke-linecap="butt"/>
<line x1="669.3" y1="383.6" x2="669.3" y2="387.4" stroke="#111" stroke-width="0.8" stroke-linecap="butt"/>
<text x="564.4" y="399.6" font-size="6.9" text-anchor="end" font-weight="normal" fill="#000" stroke="#000" stroke-width="0.22" textLength="13.5" lengthAdjust="spacingAndGlyphs">DOI:</text>
<line x1="581.4" y1="397.7" x2="583.6" y2="397.7" stroke="#333" stroke-width="0.8" stroke-linecap="butt"/>
<line x1="603.1" y1="397.7" x2="605.3" y2="397.7" stroke="#333" stroke-width="0.8" stroke-linecap="butt"/>
<line x1="624.0" y1="397.3" x2="627.8" y2="397.3" stroke="#111" stroke-width="0.8" stroke-linecap="butt"/>
<line x1="625.9" y1="395.4" x2="625.9" y2="399.2" stroke="#111" stroke-width="0.8" stroke-linecap="butt"/>
<line x1="646.5" y1="397.7" x2="648.7" y2="397.7" stroke="#333" stroke-width="0.8" stroke-linecap="butt"/>
<line x1="667.4" y1="397.3" x2="671.1" y2="397.3" stroke="#111" stroke-width="0.8" stroke-linecap="butt"/>
<line x1="669.3" y1="395.4" x2="669.3" y2="399.2" stroke="#111" stroke-width="0.8" stroke-linecap="butt"/>
<text x="211.8" y="451.0" font-size="10.6" text-anchor="start" font-weight="normal" fill="#111" stroke="#111" stroke-width="0.22">G</text>
<text x="336.5" y="460.2" font-size="9" text-anchor="middle" font-weight="normal" fill="#111" stroke="#111" stroke-width="0.22" textLength="39.2" lengthAdjust="spacingAndGlyphs">p=0.0204</text>
<line x1="290.0" y1="466.3" x2="383.7" y2="466.3" stroke="#000" stroke-width="1.4" stroke-linecap="butt"/>
<text x="321.7" y="477.0" font-size="9" text-anchor="middle" font-weight="normal" fill="#111" stroke="#111" stroke-width="0.22" textLength="39.5" lengthAdjust="spacingAndGlyphs">p=0.0199</text>
<line x1="290.0" y1="483.7" x2="353.5" y2="483.7" stroke="#000" stroke-width="1.4" stroke-linecap="butt"/>
<text x="307.1" y="494.8" font-size="9" text-anchor="middle" font-weight="normal" fill="#111" stroke="#111" stroke-width="0.22" textLength="39.5" lengthAdjust="spacingAndGlyphs">p=0.0469</text>
<line x1="290.0" y1="501.2" x2="324.2" y2="501.2" stroke="#000" stroke-width="1.4" stroke-linecap="butt"/>
<text x="391.7" y="494.8" font-size="9" text-anchor="middle" font-weight="normal" fill="#111" stroke="#111" stroke-width="0.22" textLength="39.5" lengthAdjust="spacingAndGlyphs">p=0.0027</text>
<line x1="377.0" y1="501.2" x2="405.8" y2="501.2" stroke="#000" stroke-width="1.4" stroke-linecap="butt"/>
<text x="278.5" y="514.6" font-size="9" text-anchor="middle" font-weight="normal" fill="#111" stroke="#111" stroke-width="0.22" textLength="39.3" lengthAdjust="spacingAndGlyphs">p=0.0042</text>
<line x1="260.4" y1="521.0" x2="295.7" y2="521.0" stroke="#000" stroke-width="1.4" stroke-linecap="butt"/>
<text x="379.2" y="514.0" font-size="9" text-anchor="middle" font-weight="normal" fill="#111" stroke="#111" stroke-width="0.22" textLength="39.3" lengthAdjust="spacingAndGlyphs">p=0.1516</text>
<line x1="351.1" y1="520.3" x2="407.5" y2="520.3" stroke="#000" stroke-width="1.4" stroke-linecap="butt"/>
<line x1="253.3" y1="511.1" x2="253.3" y2="627.2" stroke="#000" stroke-width="1.15" stroke-linecap="butt"/>
<line x1="252.7" y1="626.6" x2="421.7" y2="626.6" stroke="#000" stroke-width="1.15" stroke-linecap="butt"/>
<line x1="248.8" y1="511.7" x2="253.3" y2="511.7" stroke="#000" stroke-width="1.15" stroke-linecap="butt"/>
<text x="245.2" y="514.4" font-size="7.6" text-anchor="end" font-weight="bold" fill="#111" stroke="#111" stroke-width="0.22">80</text>
<line x1="248.8" y1="540.4" x2="253.3" y2="540.4" stroke="#000" stroke-width="1.15" stroke-linecap="butt"/>
<text x="245.2" y="543.1" font-size="7.6" text-anchor="end" font-weight="bold" fill="#111" stroke="#111" stroke-width="0.22">60</text>
<line x1="248.8" y1="569.1" x2="253.3" y2="569.1" stroke="#000" stroke-width="1.15" stroke-linecap="butt"/>
<text x="245.2" y="571.8" font-size="7.6" text-anchor="end" font-weight="bold" fill="#111" stroke="#111" stroke-width="0.22">40</text>
<line x1="248.8" y1="597.8" x2="253.3" y2="597.8" stroke="#000" stroke-width="1.15" stroke-linecap="butt"/>
<text x="245.2" y="600.5" font-size="7.6" text-anchor="end" font-weight="bold" fill="#111" stroke="#111" stroke-width="0.22">20</text>
<line x1="248.8" y1="626.5" x2="253.3" y2="626.5" stroke="#000" stroke-width="1.15" stroke-linecap="butt"/>
<text x="245.2" y="629.2" font-size="7.6" text-anchor="end" font-weight="bold" fill="#111" stroke="#111" stroke-width="0.22">0</text>
<line x1="270.7" y1="626.6" x2="270.7" y2="632.1" stroke="#000" stroke-width="1.15" stroke-linecap="butt"/>
<line x1="297.3" y1="626.6" x2="297.3" y2="632.1" stroke="#000" stroke-width="1.15" stroke-linecap="butt"/>
<line x1="323.9" y1="626.6" x2="323.9" y2="632.1" stroke="#000" stroke-width="1.15" stroke-linecap="butt"/>
<line x1="350.5" y1="626.6" x2="350.5" y2="632.1" stroke="#000" stroke-width="1.15" stroke-linecap="butt"/>
<line x1="377.1" y1="626.6" x2="377.1" y2="632.1" stroke="#000" stroke-width="1.15" stroke-linecap="butt"/>
<line x1="403.7" y1="626.6" x2="403.7" y2="632.1" stroke="#000" stroke-width="1.15" stroke-linecap="butt"/>
<text x="232.3" y="569.4" font-size="7.8" text-anchor="middle" font-weight="bold" fill="#111" stroke="#111" stroke-width="0.22" textLength="64.0" lengthAdjust="spacingAndGlyphs" transform="rotate(-90 232.3 569.4)">IL-23+ Cells %</text>
<circle cx="270.5" cy="578.0" r="2.3" fill="#000"/>
<circle cx="270.5" cy="596.8" r="2.3" fill="#000"/>
<circle cx="270.5" cy="607.6" r="2.3" fill="#000"/>
<line x1="262.0" y1="593.8" x2="279.4" y2="593.8" stroke="#000" stroke-width="1.15" stroke-linecap="butt"/>
<line x1="270.7" y1="578.0" x2="270.7" y2="609.0" stroke="#000" stroke-width="0.9774999999999999" stroke-linecap="butt"/>
<line x1="266.8" y1="578.0" x2="274.6" y2="578.0" stroke="#000" stroke-width="0.9774999999999999" stroke-linecap="butt"/>
<line x1="266.8" y1="609.0" x2="274.6" y2="609.0" stroke="#000" stroke-width="0.9774999999999999" stroke-linecap="butt"/>
<rect x="291.10" y="551.40" width="4.40" height="4.40" fill="#000"/>
<rect x="299.40" y="552.20" width="4.40" height="4.40" fill="#000"/>
<rect x="294.90" y="566.90" width="4.40" height="4.40" fill="#000"/>
<line x1="288.6" y1="559.4" x2="306.4" y2="559.4" stroke="#000" stroke-width="1.15" stroke-linecap="butt"/>
<line x1="297.5" y1="550.2" x2="297.5" y2="568.3" stroke="#000" stroke-width="0.9774999999999999" stroke-linecap="butt"/>
<line x1="293.4" y1="550.2" x2="301.6" y2="550.2" stroke="#000" stroke-width="0.9774999999999999" stroke-linecap="butt"/>
<line x1="293.4" y1="568.3" x2="301.6" y2="568.3" stroke="#000" stroke-width="0.9774999999999999" stroke-linecap="butt"/>
<polygon points="320.2,575.3 317.5,580.2 322.9,580.2" fill="#000"/>
<polygon points="328.8,580.8 326.1,585.7 331.5,585.7" fill="#000"/>
<polygon points="323.8,587.7 321.1,592.6 326.5,592.6" fill="#000"/>
<line x1="314.9" y1="583.8" x2="332.9" y2="583.8" stroke="#000" stroke-width="1.15" stroke-linecap="butt"/>
<line x1="323.9" y1="577.1" x2="323.9" y2="591.0" stroke="#000" stroke-width="0.9774999999999999" stroke-linecap="butt"/>
<line x1="319.8" y1="577.1" x2="328.0" y2="577.1" stroke="#000" stroke-width="0.9774999999999999" stroke-linecap="butt"/>
<line x1="319.8" y1="591.0" x2="328.0" y2="591.0" stroke="#000" stroke-width="0.9774999999999999" stroke-linecap="butt"/>
<polygon points="350.4,580.7 347.7,575.8 353.1,575.8" fill="#000"/>
<polygon points="346.0,592.6 343.3,587.7 348.7,587.7" fill="#000"/>
<polygon points="354.6,595.1 351.9,590.2 357.3,590.2" fill="#000"/>
<line x1="341.6" y1="586.8" x2="359.6" y2="586.8" stroke="#000" stroke-width="1.15" stroke-linecap="butt"/>
<line x1="350.6" y1="578.5" x2="350.6" y2="595.2" stroke="#000" stroke-width="0.9774999999999999" stroke-linecap="butt"/>
<line x1="346.4" y1="578.5" x2="354.8" y2="578.5" stroke="#000" stroke-width="0.9774999999999999" stroke-linecap="butt"/>
<line x1="346.4" y1="595.2" x2="354.8" y2="595.2" stroke="#000" stroke-width="0.9774999999999999" stroke-linecap="butt"/>
<circle cx="370.9" cy="530.2" r="2.3" fill="#000"/>
<circle cx="377.0" cy="531.1" r="2.3" fill="#000"/>
<circle cx="383.1" cy="533.0" r="2.3" fill="#000"/>
<line x1="368.4" y1="531.4" x2="385.6" y2="531.4" stroke="#000" stroke-width="1.15" stroke-linecap="butt"/>
<line x1="377.0" y1="530.3" x2="377.0" y2="532.6" stroke="#000" stroke-width="0.9774999999999999" stroke-linecap="butt"/>
<line x1="373.5" y1="530.3" x2="380.5" y2="530.3" stroke="#000" stroke-width="0.9774999999999999" stroke-linecap="butt"/>
<line x1="373.5" y1="532.6" x2="380.5" y2="532.6" stroke="#000" stroke-width="0.9774999999999999" stroke-linecap="butt"/>
<circle cx="398.9" cy="561.3" r="2.3" fill="#000"/>
<circle cx="408.7" cy="567.4" r="2.3" fill="#000"/>
<circle cx="403.9" cy="576.0" r="2.3" fill="#000"/>
<line x1="395.0" y1="568.3" x2="412.6" y2="568.3" stroke="#000" stroke-width="1.15" stroke-linecap="butt"/>
<line x1="403.8" y1="560.5" x2="403.8" y2="575.7" stroke="#000" stroke-width="0.9774999999999999" stroke-linecap="butt"/>
<line x1="399.9" y1="560.5" x2="407.7" y2="560.5" stroke="#000" stroke-width="0.9774999999999999" stroke-linecap="butt"/>
<line x1="399.9" y1="575.7" x2="407.7" y2="575.7" stroke="#000" stroke-width="0.9774999999999999" stroke-linecap="butt"/>
<line x1="268.2" y1="638.5" x2="354.4" y2="638.5" stroke="#000" stroke-width="1.0" stroke-linecap="butt"/>
<line x1="371.5" y1="638.5" x2="407.8" y2="638.5" stroke="#000" stroke-width="1.0" stroke-linecap="butt"/>
<text x="310.7" y="648.7" font-size="7.8" text-anchor="middle" font-weight="normal" fill="#111" stroke="#111" stroke-width="0.22" textLength="38.0" lengthAdjust="spacingAndGlyphs">WT moLCs</text>
<text x="389.2" y="648.7" font-size="7.8" text-anchor="middle" font-weight="normal" fill="#111" stroke="#111" stroke-width="0.22" textLength="36.0" lengthAdjust="spacingAndGlyphs">KO moLCs</text>
<text x="234.8" y="665.8" font-size="7.6" text-anchor="start" font-weight="normal" fill="#000" stroke="#000" stroke-width="0.22" textLength="15.0" lengthAdjust="spacingAndGlyphs">IMQ</text>
<line x1="269.5" y1="663.6" x2="271.9" y2="663.6" stroke="#333" stroke-width="0.8" stroke-linecap="butt"/>
<line x1="295.4" y1="663.2" x2="299.2" y2="663.2" stroke="#111" stroke-width="0.8" stroke-linecap="butt"/>
<line x1="297.3" y1="661.2" x2="297.3" y2="665.2" stroke="#111" stroke-width="0.8" stroke-linecap="butt"/>
<line x1="321.9" y1="663.2" x2="325.8" y2="663.2" stroke="#111" stroke-width="0.8" stroke-linecap="butt"/>
<line x1="323.9" y1="661.2" x2="323.9" y2="665.2" stroke="#111" stroke-width="0.8" stroke-linecap="butt"/>
<line x1="348.6" y1="663.2" x2="352.4" y2="663.2" stroke="#111" stroke-width="0.8" stroke-linecap="butt"/>
<line x1="350.5" y1="661.2" x2="350.5" y2="665.2" stroke="#111" stroke-width="0.8" stroke-linecap="butt"/>
<line x1="375.2" y1="663.2" x2="379.1" y2="663.2" stroke="#111" stroke-width="0.8" stroke-linecap="butt"/>
<line x1="377.1" y1="661.2" x2="377.1" y2="665.2" stroke="#111" stroke-width="0.8" stroke-linecap="butt"/>
<line x1="401.8" y1="663.2" x2="405.6" y2="663.2" stroke="#111" stroke-width="0.8" stroke-linecap="butt"/>
<line x1="403.7" y1="661.2" x2="403.7" y2="665.2" stroke="#111" stroke-width="0.8" stroke-linecap="butt"/>
<text x="234.8" y="681.6" font-size="7.6" text-anchor="start" font-weight="normal" fill="#000" stroke="#000" stroke-width="0.22" textLength="12.5" lengthAdjust="spacingAndGlyphs">DOI</text>
<line x1="269.5" y1="679.4" x2="271.9" y2="679.4" stroke="#333" stroke-width="0.8" stroke-linecap="butt"/>
<line x1="296.1" y1="679.4" x2="298.5" y2="679.4" stroke="#333" stroke-width="0.8" stroke-linecap="butt"/>
<line x1="321.9" y1="679.0" x2="325.8" y2="679.0" stroke="#111" stroke-width="0.8" stroke-linecap="butt"/>
<line x1="323.9" y1="677.0" x2="323.9" y2="681.0" stroke="#111" stroke-width="0.8" stroke-linecap="butt"/>
<line x1="349.3" y1="679.4" x2="351.7" y2="679.4" stroke="#333" stroke-width="0.8" stroke-linecap="butt"/>
<line x1="375.9" y1="679.4" x2="378.3" y2="679.4" stroke="#333" stroke-width="0.8" stroke-linecap="butt"/>
<line x1="402.5" y1="679.4" x2="404.9" y2="679.4" stroke="#333" stroke-width="0.8" stroke-linecap="butt"/>
<text x="234.8" y="697.2" font-size="7.6" text-anchor="start" font-weight="normal" fill="#000" stroke="#000" stroke-width="0.22" textLength="17.0" lengthAdjust="spacingAndGlyphs">B022</text>
<line x1="269.5" y1="695.0" x2="271.9" y2="695.0" stroke="#333" stroke-width="0.8" stroke-linecap="butt"/>
<line x1="296.1" y1="695.0" x2="298.5" y2="695.0" stroke="#333" stroke-width="0.8" stroke-linecap="butt"/>
<line x1="322.7" y1="695.0" x2="325.1" y2="695.0" stroke="#333" stroke-width="0.8" stroke-linecap="butt"/>
<line x1="348.6" y1="694.6" x2="352.4" y2="694.6" stroke="#111" stroke-width="0.8" stroke-linecap="butt"/>
<line x1="350.5" y1="692.6" x2="350.5" y2="696.6" stroke="#111" stroke-width="0.8" stroke-linecap="butt"/>
<line x1="375.9" y1="695.0" x2="378.3" y2="695.0" stroke="#333" stroke-width="0.8" stroke-linecap="butt"/>
<line x1="401.8" y1="694.6" x2="405.6" y2="694.6" stroke="#111" stroke-width="0.8" stroke-linecap="butt"/>
<line x1="403.7" y1="692.6" x2="403.7" y2="696.6" stroke="#111" stroke-width="0.8" stroke-linecap="butt"/>
<text x="455.6" y="451.0" font-size="10.6" text-anchor="start" font-weight="normal" fill="#111" stroke="#111" stroke-width="0.22">H</text>
<text x="600.8" y="455.2" font-size="11.8" text-anchor="middle" font-weight="normal" fill="#111" stroke="#111" stroke-width="0.22" textLength="49.7" lengthAdjust="spacingAndGlyphs">p=0.0238</text>
<line x1="563.2" y1="461.9" x2="638.8" y2="461.9" stroke="#000" stroke-width="1.9" stroke-linecap="butt"/>
<text x="582.2" y="475.3" font-size="11.8" text-anchor="middle" font-weight="normal" fill="#111" stroke="#111" stroke-width="0.22" textLength="49.4" lengthAdjust="spacingAndGlyphs">p=0.0172</text>
<line x1="563.2" y1="482.4" x2="601.1" y2="482.4" stroke="#000" stroke-width="1.9" stroke-linecap="butt"/>
<text x="548.7" y="497.2" font-size="11.8" text-anchor="middle" font-weight="normal" fill="#111" stroke="#111" stroke-width="0.22" textLength="49.1" lengthAdjust="spacingAndGlyphs">p=0.0003</text>
<line x1="529.0" y1="504.5" x2="568.6" y2="504.5" stroke="#000" stroke-width="1.9" stroke-linecap="butt"/>
<line x1="514.9" y1="480.2" x2="514.9" y2="625.5" stroke="#000" stroke-width="1.75" stroke-linecap="butt"/>
<line x1="514.0" y1="624.6" x2="658.1" y2="624.6" stroke="#000" stroke-width="1.75" stroke-linecap="butt"/>
<line x1="508.9" y1="481.1" x2="514.9" y2="481.1" stroke="#000" stroke-width="1.75" stroke-linecap="butt"/>
<text x="507.4" y="484.8" font-size="10.4" text-anchor="end" font-weight="bold" fill="#111" stroke="#111" stroke-width="0.22">15</text>
<line x1="508.9" y1="528.9" x2="514.9" y2="528.9" stroke="#000" stroke-width="1.75" stroke-linecap="butt"/>
<text x="507.4" y="532.6" font-size="10.4" text-anchor="end" font-weight="bold" fill="#111" stroke="#111" stroke-width="0.22">10</text>
<line x1="508.9" y1="576.7" x2="514.9" y2="576.7" stroke="#000" stroke-width="1.75" stroke-linecap="butt"/>
<text x="507.4" y="580.4" font-size="10.4" text-anchor="end" font-weight="bold" fill="#111" stroke="#111" stroke-width="0.22">5</text>
<line x1="508.9" y1="624.5" x2="514.9" y2="624.5" stroke="#000" stroke-width="1.75" stroke-linecap="butt"/>
<text x="507.4" y="628.2" font-size="10.4" text-anchor="end" font-weight="bold" fill="#111" stroke="#111" stroke-width="0.22">0</text>
<line x1="536.6" y1="624.6" x2="536.6" y2="631.6" stroke="#000" stroke-width="1.75" stroke-linecap="butt"/>
<line x1="569.4" y1="624.6" x2="569.4" y2="631.6" stroke="#000" stroke-width="1.75" stroke-linecap="butt"/>
<line x1="602.4" y1="624.6" x2="602.4" y2="631.6" stroke="#000" stroke-width="1.75" stroke-linecap="butt"/>
<line x1="635.4" y1="624.6" x2="635.4" y2="631.6" stroke="#000" stroke-width="1.75" stroke-linecap="butt"/>
<text x="490.0" y="553.0" font-size="10.6" text-anchor="middle" font-weight="bold" fill="#111" stroke="#111" stroke-width="0.22" textLength="78.0" lengthAdjust="spacingAndGlyphs" transform="rotate(-90 490.0 553.0)">IL-23+ Cells %</text>
<circle cx="531.1" cy="568.0" r="2.7" fill="#000"/>
<circle cx="542.2" cy="569.9" r="2.7" fill="#000"/>
<circle cx="536.6" cy="584.6" r="2.7" fill="#000"/>
<line x1="525.5" y1="574.1" x2="547.7" y2="574.1" stroke="#000" stroke-width="1.5" stroke-linecap="butt"/>
<line x1="536.6" y1="568.8" x2="536.6" y2="579.6" stroke="#000" stroke-width="1.275" stroke-linecap="butt"/>
<line x1="531.1" y1="568.8" x2="542.1" y2="568.8" stroke="#000" stroke-width="1.275" stroke-linecap="butt"/>
<line x1="531.1" y1="579.6" x2="542.1" y2="579.6" stroke="#000" stroke-width="1.275" stroke-linecap="butt"/>
<rect x="559.75" y="520.95" width="5.30" height="5.30" fill="#000"/>
<rect x="567.25" y="523.75" width="5.30" height="5.30" fill="#000"/>
<rect x="574.45" y="524.55" width="5.30" height="5.30" fill="#000"/>
<line x1="558.8" y1="526.0" x2="581.0" y2="526.0" stroke="#000" stroke-width="1.5" stroke-linecap="butt"/>
<polygon points="602.6,539.1 599.5,544.7 605.7,544.7" fill="#000"/>
<polygon points="597.1,551.0 594.0,556.6 600.2,556.6" fill="#000"/>
<polygon points="607.9,552.4 604.8,558.0 611.0,558.0" fill="#000"/>
<line x1="591.5" y1="550.8" x2="613.7" y2="550.8" stroke="#000" stroke-width="1.5" stroke-linecap="butt"/>
<line x1="602.6" y1="545.8" x2="602.6" y2="555.5" stroke="#000" stroke-width="1.275" stroke-linecap="butt"/>
<line x1="597.4" y1="545.8" x2="607.8" y2="545.8" stroke="#000" stroke-width="1.275" stroke-linecap="butt"/>
<line x1="597.4" y1="555.5" x2="607.8" y2="555.5" stroke="#000" stroke-width="1.275" stroke-linecap="butt"/>
<polygon points="635.6,538.6 632.5,533.0 638.7,533.0" fill="#000"/>
<polygon points="629.5,554.4 626.4,548.8 632.6,548.8" fill="#000"/>
<polygon points="641.2,561.4 638.1,555.8 644.3,555.8" fill="#000"/>
<line x1="624.5" y1="549.1" x2="646.7" y2="549.1" stroke="#000" stroke-width="1.5" stroke-linecap="butt"/>
<line x1="635.6" y1="542.2" x2="635.6" y2="556.0" stroke="#000" stroke-width="1.275" stroke-linecap="butt"/>
<line x1="630.2" y1="542.2" x2="641.0" y2="542.2" stroke="#000" stroke-width="1.275" stroke-linecap="butt"/>
<line x1="630.2" y1="556.0" x2="641.0" y2="556.0" stroke="#000" stroke-width="1.275" stroke-linecap="butt"/>
<line x1="522.5" y1="639.3" x2="640.6" y2="639.3" stroke="#000" stroke-width="1.5" stroke-linecap="butt"/>
<text x="580.9" y="649.6" font-size="8.4" text-anchor="middle" font-weight="normal" fill="#111" stroke="#111" stroke-width="0.22" textLength="51.2" lengthAdjust="spacingAndGlyphs">Human moLC</text>
<text x="513.9" y="665.7" font-size="8.4" text-anchor="end" font-weight="normal" fill="#000" stroke="#000" stroke-width="0.22" textLength="44.0" lengthAdjust="spacingAndGlyphs">Imiquimod:</text>
<line x1="535.3" y1="663.2" x2="537.9" y2="663.2" stroke="#333" stroke-width="0.9" stroke-linecap="butt"/>
<line x1="567.2" y1="662.8" x2="571.5" y2="662.8" stroke="#111" stroke-width="0.9" stroke-linecap="butt"/>
<line x1="569.4" y1="660.6" x2="569.4" y2="664.9" stroke="#111" stroke-width="0.9" stroke-linecap="butt"/>
<line x1="600.2" y1="662.8" x2="604.5" y2="662.8" stroke="#111" stroke-width="0.9" stroke-linecap="butt"/>
<line x1="602.4" y1="660.6" x2="602.4" y2="664.9" stroke="#111" stroke-width="0.9" stroke-linecap="butt"/>
<line x1="633.2" y1="662.8" x2="637.5" y2="662.8" stroke="#111" stroke-width="0.9" stroke-linecap="butt"/>
<line x1="635.4" y1="660.6" x2="635.4" y2="664.9" stroke="#111" stroke-width="0.9" stroke-linecap="butt"/>
<text x="513.9" y="681.1" font-size="8.4" text-anchor="end" font-weight="normal" fill="#000" stroke="#000" stroke-width="0.22" textLength="39.7" lengthAdjust="spacingAndGlyphs">Serotonin:</text>
<line x1="535.3" y1="678.6" x2="537.9" y2="678.6" stroke="#333" stroke-width="0.9" stroke-linecap="butt"/>
<line x1="568.1" y1="678.6" x2="570.7" y2="678.6" stroke="#333" stroke-width="0.9" stroke-linecap="butt"/>
<line x1="600.2" y1="678.2" x2="604.5" y2="678.2" stroke="#111" stroke-width="0.9" stroke-linecap="butt"/>
<line x1="602.4" y1="676.1" x2="602.4" y2="680.4" stroke="#111" stroke-width="0.9" stroke-linecap="butt"/>
<line x1="634.1" y1="678.6" x2="636.7" y2="678.6" stroke="#333" stroke-width="0.9" stroke-linecap="butt"/>
<text x="513.9" y="696.4" font-size="8.4" text-anchor="end" font-weight="normal" fill="#000" stroke="#000" stroke-width="0.22" textLength="17.0" lengthAdjust="spacingAndGlyphs">DOI:</text>
<line x1="535.3" y1="693.9" x2="537.9" y2="693.9" stroke="#333" stroke-width="0.9" stroke-linecap="butt"/>
<line x1="568.1" y1="693.9" x2="570.7" y2="693.9" stroke="#333" stroke-width="0.9" stroke-linecap="butt"/>
<line x1="601.1" y1="693.9" x2="603.7" y2="693.9" stroke="#333" stroke-width="0.9" stroke-linecap="butt"/>
<line x1="633.2" y1="693.5" x2="637.5" y2="693.5" stroke="#111" stroke-width="0.9" stroke-linecap="butt"/>
<line x1="635.4" y1="691.4" x2="635.4" y2="695.6" stroke="#111" stroke-width="0.9" stroke-linecap="butt"/>
</svg>
</body></html>
